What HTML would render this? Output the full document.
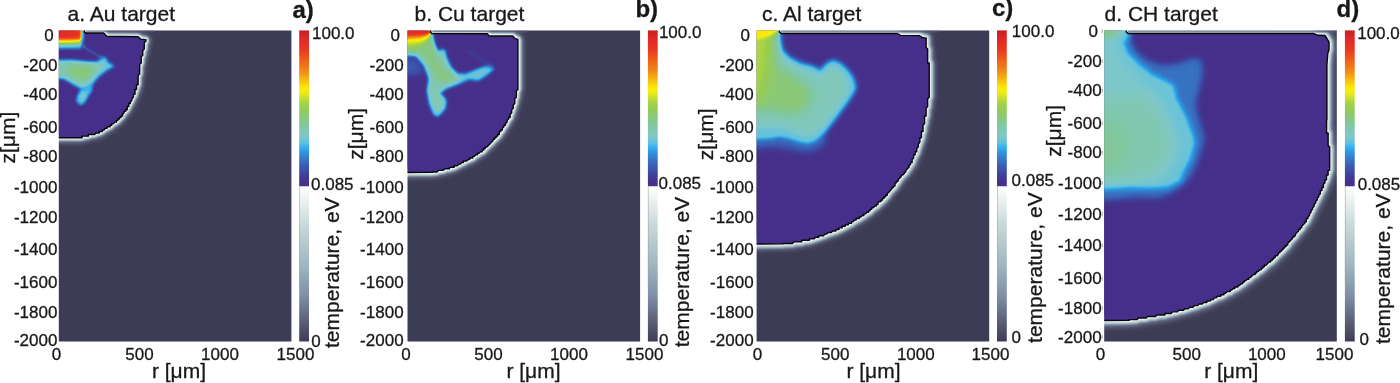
<!DOCTYPE html>
<html><head><meta charset="utf-8"><title>Temperature maps</title>
<style>html,body{margin:0;padding:0;background:#fff}body{width:1400px;height:383px;overflow:hidden}svg{display:block}text{font-family:"Liberation Sans",sans-serif;fill:#181818;stroke:#181818;stroke-width:0.3px;stroke-linejoin:round}</style></head><body>
<svg width="1400" height="383" viewBox="0 0 1400 383">
<defs><linearGradient id="topfade" x1="0" y1="0" x2="0" y2="1"><stop offset="0" stop-color="#4a4c68" stop-opacity="0.9"/><stop offset="0.45" stop-color="#5a5f7c" stop-opacity="0.55"/><stop offset="1" stop-color="#6a7090" stop-opacity="0"/></linearGradient>
<filter id="cm0" filterUnits="userSpaceOnUse" x="-1.2" y="-29.6" width="352.6" height="431.1" color-interpolation-filters="sRGB"><feColorMatrix type="matrix" values="1 0 0 0 0  1 0 0 0 0  1 0 0 0 0  0 0 0 0 1"/><feComponentTransfer><feFuncR type="table" tableValues="0.2745 0.2745 0.2739 0.2683 0.2627 0.2571 0.2514 0.2474 0.2436 0.2398 0.2359 0.2329 0.2300 0.2271 0.2242 0.2213 0.2168 0.2100 0.2033 0.1966 0.1898 0.1882 0.1882 0.1882 0.2059 0.2767 0.3475 0.3946 0.4253 0.4560 0.4868 0.5020 0.5020 0.5020 0.5020 0.5020 0.5020 0.5076 0.5133 0.5190 0.5247 0.5304 0.5378 0.5471 0.5564 0.5658 0.5751 0.5844 0.5937 0.6144 0.6392 0.6639 0.6887 0.7356 0.7840 0.8323 0.8805 0.9262 0.9719 0.9982 0.9936 0.9891 0.9849 0.9809 0.9769 0.9729 0.9670 0.9610 0.9550 0.9490 0.9430 0.9412 0.9412 0.9412 0.9412 0.9412 0.9412 0.9409 0.9361 0.9312 0.9264 0.9215 0.9167 0.9118 0.9070 0.9022 0.8974 0.8926 0.8878 0.8830 0.8778 0.8591 0.8404 0.8217 0.8030 0.7843"/><feFuncG type="table" tableValues="0.1882 0.1882 0.1894 0.2006 0.2119 0.2231 0.2344 0.2530 0.2722 0.2914 0.3106 0.3331 0.3563 0.3794 0.4026 0.4258 0.4505 0.4775 0.5045 0.5314 0.5584 0.5920 0.6277 0.6634 0.6961 0.7197 0.7433 0.7575 0.7652 0.7728 0.7805 0.7843 0.7843 0.7843 0.7843 0.7843 0.7843 0.7843 0.7843 0.7843 0.7843 0.7843 0.7854 0.7878 0.7901 0.7924 0.7947 0.7971 0.7994 0.8092 0.8215 0.8339 0.8463 0.8622 0.8783 0.8944 0.9103 0.9221 0.9339 0.9318 0.9073 0.8828 0.8454 0.8051 0.7649 0.7246 0.6882 0.6522 0.6162 0.5802 0.5441 0.5168 0.4932 0.4696 0.4461 0.4225 0.3989 0.3753 0.3510 0.3267 0.3024 0.2781 0.2538 0.2296 0.2140 0.2044 0.1948 0.1852 0.1757 0.1661 0.1566 0.1504 0.1442 0.1380 0.1317 0.1255"/><feFuncB type="table" tableValues="0.5412 0.5412 0.5425 0.5556 0.5688 0.5819 0.5950 0.6102 0.6256 0.6409 0.6563 0.6733 0.6907 0.7081 0.7255 0.7429 0.7614 0.7817 0.8019 0.8221 0.8423 0.8675 0.8943 0.9211 0.9353 0.9117 0.8881 0.8648 0.8418 0.8188 0.7957 0.7728 0.7500 0.7273 0.7045 0.6817 0.6589 0.6305 0.6020 0.5736 0.5451 0.5166 0.4884 0.4605 0.4326 0.4047 0.3768 0.3489 0.3210 0.3015 0.2850 0.2685 0.2520 0.2207 0.1885 0.1563 0.1234 0.0762 0.0290 0.0094 0.0339 0.0583 0.0627 0.0627 0.0627 0.0627 0.0683 0.0743 0.0803 0.0863 0.0923 0.0941 0.0941 0.0941 0.0941 0.0941 0.0941 0.0944 0.0992 0.1041 0.1089 0.1138 0.1186 0.1235 0.1283 0.1331 0.1379 0.1427 0.1475 0.1522 0.1566 0.1504 0.1442 0.1380 0.1317 0.1255"/></feComponentTransfer></filter>
<filter id="halo0" filterUnits="userSpaceOnUse" x="28.8" y="0.4" width="292.6" height="371.1" color-interpolation-filters="sRGB"><feGaussianBlur stdDeviation="1.2"/></filter>
<filter id="halow0" filterUnits="userSpaceOnUse" x="28.8" y="0.4" width="292.6" height="371.1" color-interpolation-filters="sRGB"><feGaussianBlur stdDeviation="2.4"/></filter>
<filter id="low0" filterUnits="userSpaceOnUse" x="28.8" y="0.4" width="292.6" height="371.1" color-interpolation-filters="sRGB"><feColorMatrix type="matrix" values="1 0 0 0 0  1 0 0 0 0  1 0 0 0 0  0 0 0 0 1"/><feComponentTransfer><feFuncR type="table" tableValues="0.2392 0.2696 0.2999 0.3303 0.3578 0.3850 0.4122 0.4394 0.4666 0.4938 0.5161 0.5364 0.5566 0.5769 0.5971 0.6173 0.6376 0.6578 0.6781 0.6983 0.7185 0.7388 0.7590 0.7793 0.8052 0.8330 0.8608 0.8887 0.9165 0.9443 0.9722 1.0000"/><feFuncG type="table" tableValues="0.2353 0.2682 0.3011 0.3340 0.3703 0.4070 0.4436 0.4803 0.5170 0.5537 0.5824 0.6077 0.6330 0.6583 0.6836 0.7089 0.7297 0.7459 0.7620 0.7782 0.7944 0.8106 0.8268 0.8430 0.8619 0.8816 0.9013 0.9211 0.9408 0.9605 0.9803 1.0000"/><feFuncB type="table" tableValues="0.3373 0.3689 0.4005 0.4321 0.4677 0.5038 0.5398 0.5759 0.6120 0.6480 0.6694 0.6846 0.6998 0.7150 0.7302 0.7454 0.7590 0.7712 0.7833 0.7954 0.8076 0.8197 0.8319 0.8440 0.8619 0.8816 0.9013 0.9211 0.9408 0.9605 0.9803 1.0000"/></feComponentTransfer></filter>
<filter id="b0_0" filterUnits="userSpaceOnUse" x="-1.2" y="-29.6" width="352.6" height="431.1" color-interpolation-filters="sRGB"><feGaussianBlur stdDeviation="2.5 2.5"/></filter>
<filter id="b0_1" filterUnits="userSpaceOnUse" x="-1.2" y="-29.6" width="352.6" height="431.1" color-interpolation-filters="sRGB"><feGaussianBlur stdDeviation="1.5 1.5"/></filter>
<filter id="b0_2" filterUnits="userSpaceOnUse" x="-1.2" y="-29.6" width="352.6" height="431.1" color-interpolation-filters="sRGB"><feGaussianBlur stdDeviation="1.8 1.8"/></filter>
<filter id="b0_3" filterUnits="userSpaceOnUse" x="-1.2" y="-29.6" width="352.6" height="431.1" color-interpolation-filters="sRGB"><feGaussianBlur stdDeviation="1.2 1.2"/></filter>
<filter id="b0_4" filterUnits="userSpaceOnUse" x="-1.2" y="-29.6" width="352.6" height="431.1" color-interpolation-filters="sRGB"><feGaussianBlur stdDeviation="2.2 2.2"/></filter>
<filter id="b0_5" filterUnits="userSpaceOnUse" x="-1.2" y="-29.6" width="352.6" height="431.1" color-interpolation-filters="sRGB"><feGaussianBlur stdDeviation="3 3"/></filter>
<filter id="b0_6" filterUnits="userSpaceOnUse" x="-1.2" y="-29.6" width="352.6" height="431.1" color-interpolation-filters="sRGB"><feGaussianBlur stdDeviation="1.5 1.5"/></filter>
<filter id="cm1" filterUnits="userSpaceOnUse" x="347.5" y="-29.6" width="352.6" height="431.1" color-interpolation-filters="sRGB"><feColorMatrix type="matrix" values="1 0 0 0 0  1 0 0 0 0  1 0 0 0 0  0 0 0 0 1"/><feComponentTransfer><feFuncR type="table" tableValues="0.2745 0.2745 0.2739 0.2683 0.2627 0.2571 0.2514 0.2474 0.2436 0.2398 0.2359 0.2329 0.2300 0.2271 0.2242 0.2213 0.2168 0.2100 0.2033 0.1966 0.1898 0.1882 0.1882 0.1882 0.2059 0.2767 0.3475 0.3946 0.4253 0.4560 0.4868 0.5020 0.5020 0.5020 0.5020 0.5020 0.5020 0.5076 0.5133 0.5190 0.5247 0.5304 0.5378 0.5471 0.5564 0.5658 0.5751 0.5844 0.5937 0.6144 0.6392 0.6639 0.6887 0.7356 0.7840 0.8323 0.8805 0.9262 0.9719 0.9982 0.9936 0.9891 0.9849 0.9809 0.9769 0.9729 0.9670 0.9610 0.9550 0.9490 0.9430 0.9412 0.9412 0.9412 0.9412 0.9412 0.9412 0.9409 0.9361 0.9312 0.9264 0.9215 0.9167 0.9118 0.9070 0.9022 0.8974 0.8926 0.8878 0.8830 0.8778 0.8591 0.8404 0.8217 0.8030 0.7843"/><feFuncG type="table" tableValues="0.1882 0.1882 0.1894 0.2006 0.2119 0.2231 0.2344 0.2530 0.2722 0.2914 0.3106 0.3331 0.3563 0.3794 0.4026 0.4258 0.4505 0.4775 0.5045 0.5314 0.5584 0.5920 0.6277 0.6634 0.6961 0.7197 0.7433 0.7575 0.7652 0.7728 0.7805 0.7843 0.7843 0.7843 0.7843 0.7843 0.7843 0.7843 0.7843 0.7843 0.7843 0.7843 0.7854 0.7878 0.7901 0.7924 0.7947 0.7971 0.7994 0.8092 0.8215 0.8339 0.8463 0.8622 0.8783 0.8944 0.9103 0.9221 0.9339 0.9318 0.9073 0.8828 0.8454 0.8051 0.7649 0.7246 0.6882 0.6522 0.6162 0.5802 0.5441 0.5168 0.4932 0.4696 0.4461 0.4225 0.3989 0.3753 0.3510 0.3267 0.3024 0.2781 0.2538 0.2296 0.2140 0.2044 0.1948 0.1852 0.1757 0.1661 0.1566 0.1504 0.1442 0.1380 0.1317 0.1255"/><feFuncB type="table" tableValues="0.5412 0.5412 0.5425 0.5556 0.5688 0.5819 0.5950 0.6102 0.6256 0.6409 0.6563 0.6733 0.6907 0.7081 0.7255 0.7429 0.7614 0.7817 0.8019 0.8221 0.8423 0.8675 0.8943 0.9211 0.9353 0.9117 0.8881 0.8648 0.8418 0.8188 0.7957 0.7728 0.7500 0.7273 0.7045 0.6817 0.6589 0.6305 0.6020 0.5736 0.5451 0.5166 0.4884 0.4605 0.4326 0.4047 0.3768 0.3489 0.3210 0.3015 0.2850 0.2685 0.2520 0.2207 0.1885 0.1563 0.1234 0.0762 0.0290 0.0094 0.0339 0.0583 0.0627 0.0627 0.0627 0.0627 0.0683 0.0743 0.0803 0.0863 0.0923 0.0941 0.0941 0.0941 0.0941 0.0941 0.0941 0.0944 0.0992 0.1041 0.1089 0.1138 0.1186 0.1235 0.1283 0.1331 0.1379 0.1427 0.1475 0.1522 0.1566 0.1504 0.1442 0.1380 0.1317 0.1255"/></feComponentTransfer></filter>
<filter id="halo1" filterUnits="userSpaceOnUse" x="377.5" y="0.4" width="292.6" height="371.1" color-interpolation-filters="sRGB"><feGaussianBlur stdDeviation="1.3"/></filter>
<filter id="halow1" filterUnits="userSpaceOnUse" x="377.5" y="0.4" width="292.6" height="371.1" color-interpolation-filters="sRGB"><feGaussianBlur stdDeviation="2.6"/></filter>
<filter id="low1" filterUnits="userSpaceOnUse" x="377.5" y="0.4" width="292.6" height="371.1" color-interpolation-filters="sRGB"><feColorMatrix type="matrix" values="1 0 0 0 0  1 0 0 0 0  1 0 0 0 0  0 0 0 0 1"/><feComponentTransfer><feFuncR type="table" tableValues="0.2392 0.2696 0.2999 0.3303 0.3578 0.3850 0.4122 0.4394 0.4666 0.4938 0.5161 0.5364 0.5566 0.5769 0.5971 0.6173 0.6376 0.6578 0.6781 0.6983 0.7185 0.7388 0.7590 0.7793 0.8052 0.8330 0.8608 0.8887 0.9165 0.9443 0.9722 1.0000"/><feFuncG type="table" tableValues="0.2353 0.2682 0.3011 0.3340 0.3703 0.4070 0.4436 0.4803 0.5170 0.5537 0.5824 0.6077 0.6330 0.6583 0.6836 0.7089 0.7297 0.7459 0.7620 0.7782 0.7944 0.8106 0.8268 0.8430 0.8619 0.8816 0.9013 0.9211 0.9408 0.9605 0.9803 1.0000"/><feFuncB type="table" tableValues="0.3373 0.3689 0.4005 0.4321 0.4677 0.5038 0.5398 0.5759 0.6120 0.6480 0.6694 0.6846 0.6998 0.7150 0.7302 0.7454 0.7590 0.7712 0.7833 0.7954 0.8076 0.8197 0.8319 0.8440 0.8619 0.8816 0.9013 0.9211 0.9408 0.9605 0.9803 1.0000"/></feComponentTransfer></filter>
<filter id="b1_0" filterUnits="userSpaceOnUse" x="347.5" y="-29.6" width="352.6" height="431.1" color-interpolation-filters="sRGB"><feGaussianBlur stdDeviation="3.5 3.5"/></filter>
<filter id="b1_1" filterUnits="userSpaceOnUse" x="347.5" y="-29.6" width="352.6" height="431.1" color-interpolation-filters="sRGB"><feGaussianBlur stdDeviation="3 3"/></filter>
<filter id="b1_2" filterUnits="userSpaceOnUse" x="347.5" y="-29.6" width="352.6" height="431.1" color-interpolation-filters="sRGB"><feGaussianBlur stdDeviation="1.8 1.8"/></filter>
<filter id="b1_3" filterUnits="userSpaceOnUse" x="347.5" y="-29.6" width="352.6" height="431.1" color-interpolation-filters="sRGB"><feGaussianBlur stdDeviation="2 2"/></filter>
<filter id="b1_4" filterUnits="userSpaceOnUse" x="347.5" y="-29.6" width="352.6" height="431.1" color-interpolation-filters="sRGB"><feGaussianBlur stdDeviation="2.2 2.2"/></filter>
<filter id="b1_5" filterUnits="userSpaceOnUse" x="347.5" y="-29.6" width="352.6" height="431.1" color-interpolation-filters="sRGB"><feGaussianBlur stdDeviation="2.5 2.5"/></filter>
<filter id="cm2" filterUnits="userSpaceOnUse" x="696.6" y="-29.6" width="352.6" height="431.1" color-interpolation-filters="sRGB"><feColorMatrix type="matrix" values="1 0 0 0 0  1 0 0 0 0  1 0 0 0 0  0 0 0 0 1"/><feComponentTransfer><feFuncR type="table" tableValues="0.2745 0.2745 0.2739 0.2683 0.2627 0.2571 0.2514 0.2474 0.2436 0.2398 0.2359 0.2329 0.2300 0.2271 0.2242 0.2213 0.2168 0.2100 0.2033 0.1966 0.1898 0.1882 0.1882 0.1882 0.2059 0.2767 0.3475 0.3946 0.4253 0.4560 0.4868 0.5020 0.5020 0.5020 0.5020 0.5020 0.5020 0.5076 0.5133 0.5190 0.5247 0.5304 0.5378 0.5471 0.5564 0.5658 0.5751 0.5844 0.5937 0.6144 0.6392 0.6639 0.6887 0.7356 0.7840 0.8323 0.8805 0.9262 0.9719 0.9982 0.9936 0.9891 0.9849 0.9809 0.9769 0.9729 0.9670 0.9610 0.9550 0.9490 0.9430 0.9412 0.9412 0.9412 0.9412 0.9412 0.9412 0.9409 0.9361 0.9312 0.9264 0.9215 0.9167 0.9118 0.9070 0.9022 0.8974 0.8926 0.8878 0.8830 0.8778 0.8591 0.8404 0.8217 0.8030 0.7843"/><feFuncG type="table" tableValues="0.1882 0.1882 0.1894 0.2006 0.2119 0.2231 0.2344 0.2530 0.2722 0.2914 0.3106 0.3331 0.3563 0.3794 0.4026 0.4258 0.4505 0.4775 0.5045 0.5314 0.5584 0.5920 0.6277 0.6634 0.6961 0.7197 0.7433 0.7575 0.7652 0.7728 0.7805 0.7843 0.7843 0.7843 0.7843 0.7843 0.7843 0.7843 0.7843 0.7843 0.7843 0.7843 0.7854 0.7878 0.7901 0.7924 0.7947 0.7971 0.7994 0.8092 0.8215 0.8339 0.8463 0.8622 0.8783 0.8944 0.9103 0.9221 0.9339 0.9318 0.9073 0.8828 0.8454 0.8051 0.7649 0.7246 0.6882 0.6522 0.6162 0.5802 0.5441 0.5168 0.4932 0.4696 0.4461 0.4225 0.3989 0.3753 0.3510 0.3267 0.3024 0.2781 0.2538 0.2296 0.2140 0.2044 0.1948 0.1852 0.1757 0.1661 0.1566 0.1504 0.1442 0.1380 0.1317 0.1255"/><feFuncB type="table" tableValues="0.5412 0.5412 0.5425 0.5556 0.5688 0.5819 0.5950 0.6102 0.6256 0.6409 0.6563 0.6733 0.6907 0.7081 0.7255 0.7429 0.7614 0.7817 0.8019 0.8221 0.8423 0.8675 0.8943 0.9211 0.9353 0.9117 0.8881 0.8648 0.8418 0.8188 0.7957 0.7728 0.7500 0.7273 0.7045 0.6817 0.6589 0.6305 0.6020 0.5736 0.5451 0.5166 0.4884 0.4605 0.4326 0.4047 0.3768 0.3489 0.3210 0.3015 0.2850 0.2685 0.2520 0.2207 0.1885 0.1563 0.1234 0.0762 0.0290 0.0094 0.0339 0.0583 0.0627 0.0627 0.0627 0.0627 0.0683 0.0743 0.0803 0.0863 0.0923 0.0941 0.0941 0.0941 0.0941 0.0941 0.0941 0.0944 0.0992 0.1041 0.1089 0.1138 0.1186 0.1235 0.1283 0.1331 0.1379 0.1427 0.1475 0.1522 0.1566 0.1504 0.1442 0.1380 0.1317 0.1255"/></feComponentTransfer></filter>
<filter id="halo2" filterUnits="userSpaceOnUse" x="726.6" y="0.4" width="292.6" height="371.1" color-interpolation-filters="sRGB"><feGaussianBlur stdDeviation="1.4"/></filter>
<filter id="halow2" filterUnits="userSpaceOnUse" x="726.6" y="0.4" width="292.6" height="371.1" color-interpolation-filters="sRGB"><feGaussianBlur stdDeviation="2.8"/></filter>
<filter id="low2" filterUnits="userSpaceOnUse" x="726.6" y="0.4" width="292.6" height="371.1" color-interpolation-filters="sRGB"><feColorMatrix type="matrix" values="1 0 0 0 0  1 0 0 0 0  1 0 0 0 0  0 0 0 0 1"/><feComponentTransfer><feFuncR type="table" tableValues="0.2392 0.2696 0.2999 0.3303 0.3578 0.3850 0.4122 0.4394 0.4666 0.4938 0.5161 0.5364 0.5566 0.5769 0.5971 0.6173 0.6376 0.6578 0.6781 0.6983 0.7185 0.7388 0.7590 0.7793 0.8052 0.8330 0.8608 0.8887 0.9165 0.9443 0.9722 1.0000"/><feFuncG type="table" tableValues="0.2353 0.2682 0.3011 0.3340 0.3703 0.4070 0.4436 0.4803 0.5170 0.5537 0.5824 0.6077 0.6330 0.6583 0.6836 0.7089 0.7297 0.7459 0.7620 0.7782 0.7944 0.8106 0.8268 0.8430 0.8619 0.8816 0.9013 0.9211 0.9408 0.9605 0.9803 1.0000"/><feFuncB type="table" tableValues="0.3373 0.3689 0.4005 0.4321 0.4677 0.5038 0.5398 0.5759 0.6120 0.6480 0.6694 0.6846 0.6998 0.7150 0.7302 0.7454 0.7590 0.7712 0.7833 0.7954 0.8076 0.8197 0.8319 0.8440 0.8619 0.8816 0.9013 0.9211 0.9408 0.9605 0.9803 1.0000"/></feComponentTransfer></filter>
<filter id="b2_0" filterUnits="userSpaceOnUse" x="696.6" y="-29.6" width="352.6" height="431.1" color-interpolation-filters="sRGB"><feGaussianBlur stdDeviation="5 5"/></filter>
<filter id="b2_1" filterUnits="userSpaceOnUse" x="696.6" y="-29.6" width="352.6" height="431.1" color-interpolation-filters="sRGB"><feGaussianBlur stdDeviation="4 4"/></filter>
<filter id="b2_2" filterUnits="userSpaceOnUse" x="696.6" y="-29.6" width="352.6" height="431.1" color-interpolation-filters="sRGB"><feGaussianBlur stdDeviation="2.6 2.6"/></filter>
<filter id="b2_3" filterUnits="userSpaceOnUse" x="696.6" y="-29.6" width="352.6" height="431.1" color-interpolation-filters="sRGB"><feGaussianBlur stdDeviation="1.8 1.8"/></filter>
<filter id="b2_4" filterUnits="userSpaceOnUse" x="696.6" y="-29.6" width="352.6" height="431.1" color-interpolation-filters="sRGB"><feGaussianBlur stdDeviation="3 3"/></filter>
<filter id="b2_5" filterUnits="userSpaceOnUse" x="696.6" y="-29.6" width="352.6" height="431.1" color-interpolation-filters="sRGB"><feGaussianBlur stdDeviation="6 6"/></filter>
<filter id="b2_6" filterUnits="userSpaceOnUse" x="696.6" y="-29.6" width="352.6" height="431.1" color-interpolation-filters="sRGB"><feGaussianBlur stdDeviation="7 7"/></filter>
<filter id="b2_7" filterUnits="userSpaceOnUse" x="696.6" y="-29.6" width="352.6" height="431.1" color-interpolation-filters="sRGB"><feGaussianBlur stdDeviation="2.2 2.2"/></filter>
<filter id="cm3" filterUnits="userSpaceOnUse" x="1044.2" y="-29.6" width="352.6" height="431.1" color-interpolation-filters="sRGB"><feColorMatrix type="matrix" values="1 0 0 0 0  1 0 0 0 0  1 0 0 0 0  0 0 0 0 1"/><feComponentTransfer><feFuncR type="table" tableValues="0.2745 0.2745 0.2739 0.2683 0.2627 0.2571 0.2514 0.2474 0.2436 0.2398 0.2359 0.2329 0.2300 0.2271 0.2242 0.2213 0.2168 0.2100 0.2033 0.1966 0.1898 0.1882 0.1882 0.1882 0.2059 0.2767 0.3475 0.3946 0.4253 0.4560 0.4868 0.5020 0.5020 0.5020 0.5020 0.5020 0.5020 0.5076 0.5133 0.5190 0.5247 0.5304 0.5378 0.5471 0.5564 0.5658 0.5751 0.5844 0.5937 0.6144 0.6392 0.6639 0.6887 0.7356 0.7840 0.8323 0.8805 0.9262 0.9719 0.9982 0.9936 0.9891 0.9849 0.9809 0.9769 0.9729 0.9670 0.9610 0.9550 0.9490 0.9430 0.9412 0.9412 0.9412 0.9412 0.9412 0.9412 0.9409 0.9361 0.9312 0.9264 0.9215 0.9167 0.9118 0.9070 0.9022 0.8974 0.8926 0.8878 0.8830 0.8778 0.8591 0.8404 0.8217 0.8030 0.7843"/><feFuncG type="table" tableValues="0.1882 0.1882 0.1894 0.2006 0.2119 0.2231 0.2344 0.2530 0.2722 0.2914 0.3106 0.3331 0.3563 0.3794 0.4026 0.4258 0.4505 0.4775 0.5045 0.5314 0.5584 0.5920 0.6277 0.6634 0.6961 0.7197 0.7433 0.7575 0.7652 0.7728 0.7805 0.7843 0.7843 0.7843 0.7843 0.7843 0.7843 0.7843 0.7843 0.7843 0.7843 0.7843 0.7854 0.7878 0.7901 0.7924 0.7947 0.7971 0.7994 0.8092 0.8215 0.8339 0.8463 0.8622 0.8783 0.8944 0.9103 0.9221 0.9339 0.9318 0.9073 0.8828 0.8454 0.8051 0.7649 0.7246 0.6882 0.6522 0.6162 0.5802 0.5441 0.5168 0.4932 0.4696 0.4461 0.4225 0.3989 0.3753 0.3510 0.3267 0.3024 0.2781 0.2538 0.2296 0.2140 0.2044 0.1948 0.1852 0.1757 0.1661 0.1566 0.1504 0.1442 0.1380 0.1317 0.1255"/><feFuncB type="table" tableValues="0.5412 0.5412 0.5425 0.5556 0.5688 0.5819 0.5950 0.6102 0.6256 0.6409 0.6563 0.6733 0.6907 0.7081 0.7255 0.7429 0.7614 0.7817 0.8019 0.8221 0.8423 0.8675 0.8943 0.9211 0.9353 0.9117 0.8881 0.8648 0.8418 0.8188 0.7957 0.7728 0.7500 0.7273 0.7045 0.6817 0.6589 0.6305 0.6020 0.5736 0.5451 0.5166 0.4884 0.4605 0.4326 0.4047 0.3768 0.3489 0.3210 0.3015 0.2850 0.2685 0.2520 0.2207 0.1885 0.1563 0.1234 0.0762 0.0290 0.0094 0.0339 0.0583 0.0627 0.0627 0.0627 0.0627 0.0683 0.0743 0.0803 0.0863 0.0923 0.0941 0.0941 0.0941 0.0941 0.0941 0.0941 0.0944 0.0992 0.1041 0.1089 0.1138 0.1186 0.1235 0.1283 0.1331 0.1379 0.1427 0.1475 0.1522 0.1566 0.1504 0.1442 0.1380 0.1317 0.1255"/></feComponentTransfer></filter>
<filter id="halo3" filterUnits="userSpaceOnUse" x="1074.2" y="0.4" width="292.6" height="371.1" color-interpolation-filters="sRGB"><feGaussianBlur stdDeviation="1.5"/></filter>
<filter id="halow3" filterUnits="userSpaceOnUse" x="1074.2" y="0.4" width="292.6" height="371.1" color-interpolation-filters="sRGB"><feGaussianBlur stdDeviation="3.0"/></filter>
<filter id="low3" filterUnits="userSpaceOnUse" x="1074.2" y="0.4" width="292.6" height="371.1" color-interpolation-filters="sRGB"><feColorMatrix type="matrix" values="1 0 0 0 0  1 0 0 0 0  1 0 0 0 0  0 0 0 0 1"/><feComponentTransfer><feFuncR type="table" tableValues="0.2392 0.2696 0.2999 0.3303 0.3578 0.3850 0.4122 0.4394 0.4666 0.4938 0.5161 0.5364 0.5566 0.5769 0.5971 0.6173 0.6376 0.6578 0.6781 0.6983 0.7185 0.7388 0.7590 0.7793 0.8052 0.8330 0.8608 0.8887 0.9165 0.9443 0.9722 1.0000"/><feFuncG type="table" tableValues="0.2353 0.2682 0.3011 0.3340 0.3703 0.4070 0.4436 0.4803 0.5170 0.5537 0.5824 0.6077 0.6330 0.6583 0.6836 0.7089 0.7297 0.7459 0.7620 0.7782 0.7944 0.8106 0.8268 0.8430 0.8619 0.8816 0.9013 0.9211 0.9408 0.9605 0.9803 1.0000"/><feFuncB type="table" tableValues="0.3373 0.3689 0.4005 0.4321 0.4677 0.5038 0.5398 0.5759 0.6120 0.6480 0.6694 0.6846 0.6998 0.7150 0.7302 0.7454 0.7590 0.7712 0.7833 0.7954 0.8076 0.8197 0.8319 0.8440 0.8619 0.8816 0.9013 0.9211 0.9408 0.9605 0.9803 1.0000"/></feComponentTransfer></filter>
<filter id="b3_0" filterUnits="userSpaceOnUse" x="1044.2" y="-29.6" width="352.6" height="431.1" color-interpolation-filters="sRGB"><feGaussianBlur stdDeviation="5 5"/></filter>
<filter id="b3_1" filterUnits="userSpaceOnUse" x="1044.2" y="-29.6" width="352.6" height="431.1" color-interpolation-filters="sRGB"><feGaussianBlur stdDeviation="3 3"/></filter>
<filter id="b3_2" filterUnits="userSpaceOnUse" x="1044.2" y="-29.6" width="352.6" height="431.1" color-interpolation-filters="sRGB"><feGaussianBlur stdDeviation="2 2"/></filter>
<filter id="b3_3" filterUnits="userSpaceOnUse" x="1044.2" y="-29.6" width="352.6" height="431.1" color-interpolation-filters="sRGB"><feGaussianBlur stdDeviation="1.5 1.5"/></filter>
<filter id="b3_4" filterUnits="userSpaceOnUse" x="1044.2" y="-29.6" width="352.6" height="431.1" color-interpolation-filters="sRGB"><feGaussianBlur stdDeviation="4 4"/></filter>
<filter id="b3_5" filterUnits="userSpaceOnUse" x="1044.2" y="-29.6" width="352.6" height="431.1" color-interpolation-filters="sRGB"><feGaussianBlur stdDeviation="8 8"/></filter>
<filter id="b3_6" filterUnits="userSpaceOnUse" x="1044.2" y="-29.6" width="352.6" height="431.1" color-interpolation-filters="sRGB"><feGaussianBlur stdDeviation="9 9"/></filter>
<filter id="b3_7" filterUnits="userSpaceOnUse" x="1044.2" y="-29.6" width="352.6" height="431.1" color-interpolation-filters="sRGB"><feGaussianBlur stdDeviation="3 3"/></filter></defs>
<rect width="1400" height="383" fill="#fff"/>
<!-- panel 0 -->
<clipPath id="clip0"><rect x="58.80" y="30.40" width="232.60" height="311.10"/></clipPath>
<clipPath id="reg0"><path d="M84.50 29.00 L84.50 32.20 L86.00 33.00 L103.60 33.00 L106.70 36.30 L138.00 36.80 L141.00 39.20 L145.60 39.60 L145.88 39.73 L145.88 41.28 L144.32 42.84 L144.32 44.39 L144.32 45.95 L144.32 47.50 L144.32 49.06 L142.77 50.61 L142.77 52.17 L142.77 53.72 L142.77 55.28 L141.21 56.83 L141.21 58.39 L141.21 59.94 L141.21 61.50 L141.21 63.05 L139.66 64.61 L139.66 66.16 L139.66 67.72 L139.66 69.28 L139.66 70.83 L139.66 72.38 L139.66 73.94 L138.10 75.50 L138.10 77.05 L138.10 78.60 L138.10 80.16 L138.10 81.72 L138.10 83.27 L138.10 84.82 L136.55 84.82 L136.55 86.38 L136.55 87.94 L136.55 89.49 L135.00 89.49 L135.00 91.04 L135.00 92.60 L135.00 94.16 L133.44 94.16 L133.44 95.71 L133.44 97.26 L131.88 98.82 L131.88 100.38 L130.33 101.93 L130.33 103.48 L128.77 103.48 L128.77 105.04 L128.77 106.59 L127.22 106.59 L127.22 108.15 L127.22 109.70 L125.66 109.70 L125.66 111.26 L124.11 111.26 L124.11 112.81 L122.55 114.37 L122.55 115.92 L121.00 115.92 L121.00 117.48 L119.44 117.48 L119.44 119.03 L117.89 119.03 L117.89 120.59 L116.33 120.59 L116.33 122.14 L114.78 122.14 L113.22 123.70 L111.67 123.70 L111.67 125.25 L110.11 125.25 L110.11 126.81 L108.56 126.81 L107.00 126.81 L107.00 128.36 L105.45 128.36 L103.89 129.92 L102.34 129.92 L102.34 131.47 L100.78 131.47 L99.23 131.47 L99.23 133.03 L97.67 133.03 L96.12 133.03 L94.56 134.59 L93.01 134.59 L91.45 134.59 L89.90 134.59 L88.34 134.59 L88.34 136.14 L86.79 136.14 L85.23 136.14 L83.68 136.14 L82.12 136.14 L82.12 137.69 L80.57 137.69 L80.10 137.60 L50.00 137.80 L18.80 137.80 L18.80 29.00 Z M18.80 20.40 h65.70 v20 h-65.70 Z"/></clipPath>
<g clip-path="url(#clip0)">
<g filter="url(#low0)"><rect x="28.80" y="0.40" width="292.60" height="371.10" fill="#000"/>
<path d="M84.50 29.00 L84.50 32.20 L86.00 33.00 L103.60 33.00 L106.70 36.30 L138.00 36.80 L141.00 39.20 L145.60 39.60 L145.88 39.73 L145.88 41.28 L144.32 42.84 L144.32 44.39 L144.32 45.95 L144.32 47.50 L144.32 49.06 L142.77 50.61 L142.77 52.17 L142.77 53.72 L142.77 55.28 L141.21 56.83 L141.21 58.39 L141.21 59.94 L141.21 61.50 L141.21 63.05 L139.66 64.61 L139.66 66.16 L139.66 67.72 L139.66 69.28 L139.66 70.83 L139.66 72.38 L139.66 73.94 L138.10 75.50 L138.10 77.05 L138.10 78.60 L138.10 80.16 L138.10 81.72 L138.10 83.27 L138.10 84.82 L136.55 84.82 L136.55 86.38 L136.55 87.94 L136.55 89.49 L135.00 89.49 L135.00 91.04 L135.00 92.60 L135.00 94.16 L133.44 94.16 L133.44 95.71 L133.44 97.26 L131.88 98.82 L131.88 100.38 L130.33 101.93 L130.33 103.48 L128.77 103.48 L128.77 105.04 L128.77 106.59 L127.22 106.59 L127.22 108.15 L127.22 109.70 L125.66 109.70 L125.66 111.26 L124.11 111.26 L124.11 112.81 L122.55 114.37 L122.55 115.92 L121.00 115.92 L121.00 117.48 L119.44 117.48 L119.44 119.03 L117.89 119.03 L117.89 120.59 L116.33 120.59 L116.33 122.14 L114.78 122.14 L113.22 123.70 L111.67 123.70 L111.67 125.25 L110.11 125.25 L110.11 126.81 L108.56 126.81 L107.00 126.81 L107.00 128.36 L105.45 128.36 L103.89 129.92 L102.34 129.92 L102.34 131.47 L100.78 131.47 L99.23 131.47 L99.23 133.03 L97.67 133.03 L96.12 133.03 L94.56 134.59 L93.01 134.59 L91.45 134.59 L89.90 134.59 L88.34 134.59 L88.34 136.14 L86.79 136.14 L85.23 136.14 L83.68 136.14 L82.12 136.14 L82.12 137.69 L80.57 137.69 L80.10 137.60 L50.00 137.80" fill="none" stroke="#fff" stroke-opacity="0.34" stroke-width="8.25" stroke-linejoin="round" filter="url(#halow0)"/>
<path d="M84.50 29.00 L84.50 32.20 L86.00 33.00 L103.60 33.00 L106.70 36.30 L138.00 36.80 L141.00 39.20 L145.60 39.60 L145.88 39.73 L145.88 41.28 L144.32 42.84 L144.32 44.39 L144.32 45.95 L144.32 47.50 L144.32 49.06 L142.77 50.61 L142.77 52.17 L142.77 53.72 L142.77 55.28 L141.21 56.83 L141.21 58.39 L141.21 59.94 L141.21 61.50 L141.21 63.05 L139.66 64.61 L139.66 66.16 L139.66 67.72 L139.66 69.28 L139.66 70.83 L139.66 72.38 L139.66 73.94 L138.10 75.50 L138.10 77.05 L138.10 78.60 L138.10 80.16 L138.10 81.72 L138.10 83.27 L138.10 84.82 L136.55 84.82 L136.55 86.38 L136.55 87.94 L136.55 89.49 L135.00 89.49 L135.00 91.04 L135.00 92.60 L135.00 94.16 L133.44 94.16 L133.44 95.71 L133.44 97.26 L131.88 98.82 L131.88 100.38 L130.33 101.93 L130.33 103.48 L128.77 103.48 L128.77 105.04 L128.77 106.59 L127.22 106.59 L127.22 108.15 L127.22 109.70 L125.66 109.70 L125.66 111.26 L124.11 111.26 L124.11 112.81 L122.55 114.37 L122.55 115.92 L121.00 115.92 L121.00 117.48 L119.44 117.48 L119.44 119.03 L117.89 119.03 L117.89 120.59 L116.33 120.59 L116.33 122.14 L114.78 122.14 L113.22 123.70 L111.67 123.70 L111.67 125.25 L110.11 125.25 L110.11 126.81 L108.56 126.81 L107.00 126.81 L107.00 128.36 L105.45 128.36 L103.89 129.92 L102.34 129.92 L102.34 131.47 L100.78 131.47 L99.23 131.47 L99.23 133.03 L97.67 133.03 L96.12 133.03 L94.56 134.59 L93.01 134.59 L91.45 134.59 L89.90 134.59 L88.34 134.59 L88.34 136.14 L86.79 136.14 L85.23 136.14 L83.68 136.14 L82.12 136.14 L82.12 137.69 L80.57 137.69 L80.10 137.60 L50.00 137.80" fill="none" stroke="#fff" stroke-width="4.675" stroke-linejoin="round" filter="url(#halo0)"/></g>
<rect x="86.00" y="30.40" width="68.60" height="2.40" fill="url(#topfade)"/>
<g clip-path="url(#reg0)"><g filter="url(#cm0)">
<rect x="-1.20" y="-29.60" width="352.60" height="431.10" fill="#000"/>
<g filter="url(#b0_0)">
<path d="M40.00 60.50 L70.70 59.80 L86.30 61.40 L97.30 61.80 L102.00 56.80 L106.00 57.40 L108.30 62.60 L114.80 66.00 L106.70 70.50 L98.90 76.70 L93.00 84.00 L88.00 88.00 L81.00 89.00 L73.80 85.00 L64.40 79.00 L40.00 77.00 Z" fill="rgb(26,26,26)" stroke="rgb(26,26,26)" stroke-width="3" stroke-linejoin="round"/>
</g>
<g filter="url(#b0_1)">
<path d="M40.00 60.50 L70.70 59.80 L86.30 61.40 L97.30 61.80 L102.00 56.80 L106.00 57.40 L108.30 62.60 L114.80 66.00 L106.70 70.50 L98.90 76.70 L93.00 84.00 L88.00 88.00 L81.00 89.00 L73.80 85.00 L64.40 79.00 L40.00 77.00 Z" fill="rgb(76,76,76)"/>
</g>
<g filter="url(#b0_2)">
<path d="M92.60 83.00 L92.60 91.30 L88.70 96.80 L84.80 103.80 L80.00 106.20 L75.40 100.70 L77.00 94.40 L80.90 88.00 Z" fill="rgb(66,66,66)"/>
</g>
<g filter="url(#b0_3)">
<path d="M83.5 46 C86 50 94 52 102 58" fill="none" stroke="rgb(38,38,38)" stroke-width="2.4" stroke-linecap="round"/>
</g>
<g filter="url(#b0_4)">
<path d="M40.00 63.50 L72.00 62.50 L97.00 64.50 L104.00 65.50 L96.00 72.00 L89.00 81.00 L84.00 86.00 L74.00 81.00 L62.00 76.00 L40.00 74.00 Z" fill="rgb(94,94,94)"/>
</g>
<g filter="url(#b0_5)">
<path d="M68.00 66.00 L84.00 66.00 L95.00 68.00 L90.00 75.00 L84.00 80.00 L76.00 78.00 L70.00 73.00 Z" fill="rgb(115,115,115)"/>
</g>
<g filter="url(#b0_6)">
<path d="M82.00 92.00 L87.00 92.00 L85.00 99.00 L81.00 102.00 L79.00 98.00 Z" fill="rgb(79,79,79)"/>
</g>
<linearGradient id="hsav" gradientUnits="userSpaceOnUse" x1="0" y1="30.40" x2="0" y2="52.00"><stop offset="0.0000" stop-color="#fff" stop-opacity="0.950"/><stop offset="0.2593" stop-color="#fff" stop-opacity="0.930"/><stop offset="0.3519" stop-color="#fff" stop-opacity="0.880"/><stop offset="0.4213" stop-color="#fff" stop-opacity="0.760"/><stop offset="0.4907" stop-color="#fff" stop-opacity="0.640"/><stop offset="0.5602" stop-color="#fff" stop-opacity="0.570"/><stop offset="0.6296" stop-color="#fff" stop-opacity="0.450"/><stop offset="0.7222" stop-color="#fff" stop-opacity="0.310"/><stop offset="0.7917" stop-color="#fff" stop-opacity="0.250"/><stop offset="0.8611" stop-color="#fff" stop-opacity="0.150"/><stop offset="0.9306" stop-color="#fff" stop-opacity="0.050"/><stop offset="1.0000" stop-color="#fff" stop-opacity="0.000"/></linearGradient><linearGradient id="hsah" gradientUnits="userSpaceOnUse" x1="30.00" y1="0" x2="90.00" y2="0"><stop offset="0.0000" stop-color="rgb(255,255,255)"/><stop offset="0.4833" stop-color="rgb(255,255,255)"/><stop offset="0.6333" stop-color="rgb(252,252,252)"/><stop offset="0.7000" stop-color="rgb(249,249,249)"/><stop offset="0.7500" stop-color="rgb(245,245,245)"/><stop offset="0.8000" stop-color="rgb(240,240,240)"/><stop offset="0.8333" stop-color="rgb(230,230,230)"/><stop offset="0.8500" stop-color="rgb(166,166,166)"/><stop offset="0.8667" stop-color="rgb(92,92,92)"/><stop offset="0.8833" stop-color="rgb(69,69,69)"/><stop offset="0.9000" stop-color="rgb(51,51,51)"/><stop offset="0.9167" stop-color="rgb(15,15,15)"/><stop offset="0.9333" stop-color="rgb(0,0,0)"/><stop offset="1.0000" stop-color="rgb(0,0,0)"/></linearGradient><mask id="hsam" maskUnits="userSpaceOnUse" x="30.00" y="10.40" width="60.00" height="41.60"><rect x="30.00" y="10.40" width="60.00" height="41.60" fill="url(#hsah)"/></mask><g mask="url(#hsam)"><rect x="30.00" y="30.40" width="60.00" height="21.60" fill="url(#hsav)"/><rect x="30.00" y="10.40" width="60.00" height="20.5" fill="#fff" fill-opacity="0.950"/></g>
</g></g>
<path d="M84.50 29.00 L84.50 32.20 L86.00 33.00 L103.60 33.00 L106.70 36.30 L138.00 36.80 L141.00 39.20 L145.60 39.60 L145.88 39.73 L145.88 41.28 L144.32 42.84 L144.32 44.39 L144.32 45.95 L144.32 47.50 L144.32 49.06 L142.77 50.61 L142.77 52.17 L142.77 53.72 L142.77 55.28 L141.21 56.83 L141.21 58.39 L141.21 59.94 L141.21 61.50 L141.21 63.05 L139.66 64.61 L139.66 66.16 L139.66 67.72 L139.66 69.28 L139.66 70.83 L139.66 72.38 L139.66 73.94 L138.10 75.50 L138.10 77.05 L138.10 78.60 L138.10 80.16 L138.10 81.72 L138.10 83.27 L138.10 84.82 L136.55 84.82 L136.55 86.38 L136.55 87.94 L136.55 89.49 L135.00 89.49 L135.00 91.04 L135.00 92.60 L135.00 94.16 L133.44 94.16 L133.44 95.71 L133.44 97.26 L131.88 98.82 L131.88 100.38 L130.33 101.93 L130.33 103.48 L128.77 103.48 L128.77 105.04 L128.77 106.59 L127.22 106.59 L127.22 108.15 L127.22 109.70 L125.66 109.70 L125.66 111.26 L124.11 111.26 L124.11 112.81 L122.55 114.37 L122.55 115.92 L121.00 115.92 L121.00 117.48 L119.44 117.48 L119.44 119.03 L117.89 119.03 L117.89 120.59 L116.33 120.59 L116.33 122.14 L114.78 122.14 L113.22 123.70 L111.67 123.70 L111.67 125.25 L110.11 125.25 L110.11 126.81 L108.56 126.81 L107.00 126.81 L107.00 128.36 L105.45 128.36 L103.89 129.92 L102.34 129.92 L102.34 131.47 L100.78 131.47 L99.23 131.47 L99.23 133.03 L97.67 133.03 L96.12 133.03 L94.56 134.59 L93.01 134.59 L91.45 134.59 L89.90 134.59 L88.34 134.59 L88.34 136.14 L86.79 136.14 L85.23 136.14 L83.68 136.14 L82.12 136.14 L82.12 137.69 L80.57 137.69 L80.10 137.60 L50.00 137.80" fill="none" stroke="#08080c" stroke-width="1.45" stroke-linejoin="round"/>
</g>
<linearGradient id="cb0a" x1="0" y1="0" x2="0" y2="1"><stop offset="0.0000" stop-color="rgb(200,32,32)"/><stop offset="0.0250" stop-color="rgb(211,36,36)"/><stop offset="0.0500" stop-color="rgb(223,40,40)"/><stop offset="0.0750" stop-color="rgb(227,45,37)"/><stop offset="0.1000" stop-color="rgb(229,51,35)"/><stop offset="0.1250" stop-color="rgb(232,58,32)"/><stop offset="0.1500" stop-color="rgb(235,72,29)"/><stop offset="0.1750" stop-color="rgb(238,87,26)"/><stop offset="0.2000" stop-color="rgb(240,102,24)"/><stop offset="0.2250" stop-color="rgb(240,116,24)"/><stop offset="0.2500" stop-color="rgb(240,130,24)"/><stop offset="0.2750" stop-color="rgb(242,149,22)"/><stop offset="0.3000" stop-color="rgb(246,171,18)"/><stop offset="0.3250" stop-color="rgb(249,194,16)"/><stop offset="0.3500" stop-color="rgb(251,218,16)"/><stop offset="0.3750" stop-color="rgb(254,235,5)"/><stop offset="0.4000" stop-color="rgb(236,235,19)"/><stop offset="0.4250" stop-color="rgb(208,227,43)"/><stop offset="0.4500" stop-color="rgb(178,217,62)"/><stop offset="0.4750" stop-color="rgb(162,209,73)"/><stop offset="0.5000" stop-color="rgb(150,204,85)"/><stop offset="0.5250" stop-color="rgb(145,202,102)"/><stop offset="0.5500" stop-color="rgb(139,201,119)"/><stop offset="0.5750" stop-color="rgb(134,200,136)"/><stop offset="0.6000" stop-color="rgb(131,200,154)"/><stop offset="0.6250" stop-color="rgb(128,200,170)"/><stop offset="0.6500" stop-color="rgb(128,200,184)"/><stop offset="0.6750" stop-color="rgb(128,200,198)"/><stop offset="0.7000" stop-color="rgb(112,196,212)"/><stop offset="0.7250" stop-color="rgb(91,190,226)"/><stop offset="0.7500" stop-color="rgb(48,176,240)"/><stop offset="0.7750" stop-color="rgb(48,154,224)"/><stop offset="0.8000" stop-color="rgb(50,136,210)"/><stop offset="0.8250" stop-color="rgb(54,119,197)"/><stop offset="0.8500" stop-color="rgb(57,104,186)"/><stop offset="0.8750" stop-color="rgb(59,90,176)"/><stop offset="0.9000" stop-color="rgb(61,77,165)"/><stop offset="0.9250" stop-color="rgb(63,65,156)"/><stop offset="0.9500" stop-color="rgb(66,56,148)"/><stop offset="0.9750" stop-color="rgb(69,49,140)"/><stop offset="1.0000" stop-color="rgb(70,48,138)"/></linearGradient>
<linearGradient id="cb0b" x1="0" y1="0" x2="0" y2="1"><stop offset="0.0000" stop-color="rgb(255,255,255)"/><stop offset="0.0500" stop-color="rgb(244,247,247)"/><stop offset="0.1000" stop-color="rgb(233,239,239)"/><stop offset="0.1500" stop-color="rgb(222,232,232)"/><stop offset="0.2000" stop-color="rgb(211,224,224)"/><stop offset="0.2500" stop-color="rgb(200,216,216)"/><stop offset="0.3000" stop-color="rgb(192,210,211)"/><stop offset="0.3500" stop-color="rgb(184,203,206)"/><stop offset="0.4000" stop-color="rgb(176,197,202)"/><stop offset="0.4500" stop-color="rgb(168,190,197)"/><stop offset="0.5000" stop-color="rgb(160,184,192)"/><stop offset="0.5500" stop-color="rgb(152,174,186)"/><stop offset="0.6000" stop-color="rgb(144,164,180)"/><stop offset="0.6500" stop-color="rgb(136,154,174)"/><stop offset="0.7000" stop-color="rgb(128,144,168)"/><stop offset="0.7500" stop-color="rgb(117,130,154)"/><stop offset="0.8000" stop-color="rgb(106,115,140)"/><stop offset="0.8500" stop-color="rgb(96,100,125)"/><stop offset="0.9000" stop-color="rgb(85,86,111)"/><stop offset="0.9500" stop-color="rgb(73,73,98)"/><stop offset="1.0000" stop-color="rgb(61,60,86)"/></linearGradient>
<rect x="299.20" y="30.40" width="9.80" height="156.10" fill="url(#cb0a)"/>
<rect x="299.20" y="186.50" width="9.80" height="155.00" fill="url(#cb0b)"/>
<rect x="299.20" y="186.50" width="0.6" height="100.00" fill="#9a9aa0" fill-opacity="0.8"/>
<g opacity="0.999"><text x="67.60" y="21.20" font-size="21" text-anchor="start" font-weight="normal" >a. Au target</text>
<text x="292.40" y="17.50" font-size="24" text-anchor="start" font-weight="bold" >a)</text>
<text x="53.80" y="40.60" font-size="17" text-anchor="end" font-weight="normal" >0</text>
<text x="57.40" y="70.60" font-size="17" text-anchor="end" font-weight="normal" >-200</text>
<text x="57.40" y="99.90" font-size="17" text-anchor="end" font-weight="normal" >-400</text>
<text x="57.40" y="132.80" font-size="17" text-anchor="end" font-weight="normal" >-600</text>
<text x="57.40" y="162.20" font-size="17" text-anchor="end" font-weight="normal" >-800</text>
<text x="57.40" y="192.50" font-size="17" text-anchor="end" font-weight="normal" >-1000</text>
<text x="57.40" y="223.40" font-size="17" text-anchor="end" font-weight="normal" >-1200</text>
<text x="57.40" y="254.90" font-size="17" text-anchor="end" font-weight="normal" >-1400</text>
<text x="57.40" y="288.10" font-size="17" text-anchor="end" font-weight="normal" >-1600</text>
<text x="57.40" y="317.70" font-size="17" text-anchor="end" font-weight="normal" >-1800</text>
<text x="57.40" y="346.40" font-size="17" text-anchor="end" font-weight="normal" >-2000</text>
<text x="56.50" y="360.30" font-size="17" text-anchor="middle" font-weight="normal" >0</text>
<text x="139.50" y="360.30" font-size="17" text-anchor="middle" font-weight="normal" >500</text>
<text x="220.00" y="360.30" font-size="17" text-anchor="middle" font-weight="normal" >1000</text>
<text x="295.50" y="360.30" font-size="17" text-anchor="middle" font-weight="normal" >1500</text>
<text x="179.00" y="378.00" font-size="21" text-anchor="middle" font-weight="normal" >r [μm]</text>
<text transform="translate(14.80,137.65) rotate(-90)" font-size="21" text-anchor="middle">z[μm]</text>
<text x="312.00" y="39.10" font-size="17" text-anchor="start" font-weight="normal" >100.0</text>
<text x="311.00" y="190.00" font-size="17" text-anchor="start" font-weight="normal" >0.085</text>
<text x="311.30" y="346.80" font-size="17" text-anchor="start" font-weight="normal" >0</text>
<text transform="translate(338.50,272.70) rotate(-90)" font-size="21" text-anchor="middle">temperature, eV</text></g>
<!-- panel 1 -->
<clipPath id="clip1"><rect x="407.50" y="30.40" width="232.60" height="311.10"/></clipPath>
<clipPath id="reg1"><path d="M430.70 29.00 L430.70 32.50 L432.00 33.60 L487.50 33.80 L489.00 36.00 L512.70 36.00 L515.00 38.60 L517.40 39.10 L517.90 39.73 L517.90 41.28 L517.90 42.84 L517.90 44.39 L517.90 45.95 L517.90 47.50 L517.90 49.06 L517.90 50.61 L517.90 52.17 L517.90 53.72 L517.90 55.28 L517.90 56.83 L517.90 58.39 L517.90 59.94 L517.90 61.50 L517.90 63.05 L517.90 64.61 L517.90 66.16 L517.90 67.72 L517.90 69.28 L517.90 70.83 L517.90 72.38 L517.90 73.94 L517.90 75.50 L517.90 77.05 L517.90 78.60 L517.90 80.16 L517.90 81.72 L517.90 83.27 L517.90 84.82 L517.90 86.38 L517.90 87.94 L517.90 89.49 L516.35 91.04 L516.35 92.60 L516.35 94.16 L516.35 95.71 L516.35 97.26 L514.79 98.82 L514.79 100.38 L514.79 101.93 L514.79 103.48 L513.24 105.04 L513.24 106.59 L513.24 108.15 L511.69 109.70 L511.69 111.26 L511.69 112.81 L510.13 114.37 L510.13 115.92 L510.13 117.48 L508.57 117.48 L508.57 119.03 L507.02 120.59 L507.02 122.14 L505.46 123.70 L505.46 125.25 L503.91 125.25 L503.91 126.81 L502.36 128.36 L502.36 129.92 L500.80 129.92 L500.80 131.47 L499.25 131.47 L499.25 133.03 L499.25 134.59 L497.69 134.59 L497.69 136.14 L496.13 136.14 L496.13 137.69 L494.58 137.69 L494.58 139.25 L493.02 139.25 L493.02 140.81 L491.47 142.36 L489.91 143.91 L488.36 145.47 L486.81 147.03 L485.25 147.03 L485.25 148.58 L483.69 148.58 L483.69 150.13 L482.14 150.13 L482.14 151.69 L480.58 151.69 L479.03 153.25 L477.48 153.25 L477.48 154.80 L475.92 154.80 L474.37 156.35 L472.81 156.35 L472.81 157.91 L471.25 157.91 L469.70 157.91 L469.70 159.47 L468.14 159.47 L466.59 161.02 L465.03 161.02 L463.48 161.02 L463.48 162.57 L461.93 162.57 L460.37 164.13 L458.81 164.13 L457.26 165.69 L455.70 165.69 L454.15 165.69 L454.15 167.24 L452.60 167.24 L451.04 167.24 L449.49 167.24 L449.49 168.79 L447.93 168.79 L446.38 168.79 L444.82 168.79 L443.26 170.35 L441.71 170.35 L440.15 170.35 L438.60 170.35 L437.05 171.91 L435.49 171.91 L433.94 171.91 L432.38 171.91 L432.60 172.40 L400.00 172.50 L367.50 172.50 L367.50 29.00 Z M367.50 20.40 h63.20 v20 h-63.20 Z"/></clipPath>
<g clip-path="url(#clip1)">
<g filter="url(#low1)"><rect x="377.50" y="0.40" width="292.60" height="371.10" fill="#000"/>
<path d="M430.70 29.00 L430.70 32.50 L432.00 33.60 L487.50 33.80 L489.00 36.00 L512.70 36.00 L515.00 38.60 L517.40 39.10 L517.90 39.73 L517.90 41.28 L517.90 42.84 L517.90 44.39 L517.90 45.95 L517.90 47.50 L517.90 49.06 L517.90 50.61 L517.90 52.17 L517.90 53.72 L517.90 55.28 L517.90 56.83 L517.90 58.39 L517.90 59.94 L517.90 61.50 L517.90 63.05 L517.90 64.61 L517.90 66.16 L517.90 67.72 L517.90 69.28 L517.90 70.83 L517.90 72.38 L517.90 73.94 L517.90 75.50 L517.90 77.05 L517.90 78.60 L517.90 80.16 L517.90 81.72 L517.90 83.27 L517.90 84.82 L517.90 86.38 L517.90 87.94 L517.90 89.49 L516.35 91.04 L516.35 92.60 L516.35 94.16 L516.35 95.71 L516.35 97.26 L514.79 98.82 L514.79 100.38 L514.79 101.93 L514.79 103.48 L513.24 105.04 L513.24 106.59 L513.24 108.15 L511.69 109.70 L511.69 111.26 L511.69 112.81 L510.13 114.37 L510.13 115.92 L510.13 117.48 L508.57 117.48 L508.57 119.03 L507.02 120.59 L507.02 122.14 L505.46 123.70 L505.46 125.25 L503.91 125.25 L503.91 126.81 L502.36 128.36 L502.36 129.92 L500.80 129.92 L500.80 131.47 L499.25 131.47 L499.25 133.03 L499.25 134.59 L497.69 134.59 L497.69 136.14 L496.13 136.14 L496.13 137.69 L494.58 137.69 L494.58 139.25 L493.02 139.25 L493.02 140.81 L491.47 142.36 L489.91 143.91 L488.36 145.47 L486.81 147.03 L485.25 147.03 L485.25 148.58 L483.69 148.58 L483.69 150.13 L482.14 150.13 L482.14 151.69 L480.58 151.69 L479.03 153.25 L477.48 153.25 L477.48 154.80 L475.92 154.80 L474.37 156.35 L472.81 156.35 L472.81 157.91 L471.25 157.91 L469.70 157.91 L469.70 159.47 L468.14 159.47 L466.59 161.02 L465.03 161.02 L463.48 161.02 L463.48 162.57 L461.93 162.57 L460.37 164.13 L458.81 164.13 L457.26 165.69 L455.70 165.69 L454.15 165.69 L454.15 167.24 L452.60 167.24 L451.04 167.24 L449.49 167.24 L449.49 168.79 L447.93 168.79 L446.38 168.79 L444.82 168.79 L443.26 170.35 L441.71 170.35 L440.15 170.35 L438.60 170.35 L437.05 171.91 L435.49 171.91 L433.94 171.91 L432.38 171.91 L432.60 172.40 L400.00 172.50" fill="none" stroke="#fff" stroke-opacity="0.34" stroke-width="9.3" stroke-linejoin="round" filter="url(#halow1)"/>
<path d="M430.70 29.00 L430.70 32.50 L432.00 33.60 L487.50 33.80 L489.00 36.00 L512.70 36.00 L515.00 38.60 L517.40 39.10 L517.90 39.73 L517.90 41.28 L517.90 42.84 L517.90 44.39 L517.90 45.95 L517.90 47.50 L517.90 49.06 L517.90 50.61 L517.90 52.17 L517.90 53.72 L517.90 55.28 L517.90 56.83 L517.90 58.39 L517.90 59.94 L517.90 61.50 L517.90 63.05 L517.90 64.61 L517.90 66.16 L517.90 67.72 L517.90 69.28 L517.90 70.83 L517.90 72.38 L517.90 73.94 L517.90 75.50 L517.90 77.05 L517.90 78.60 L517.90 80.16 L517.90 81.72 L517.90 83.27 L517.90 84.82 L517.90 86.38 L517.90 87.94 L517.90 89.49 L516.35 91.04 L516.35 92.60 L516.35 94.16 L516.35 95.71 L516.35 97.26 L514.79 98.82 L514.79 100.38 L514.79 101.93 L514.79 103.48 L513.24 105.04 L513.24 106.59 L513.24 108.15 L511.69 109.70 L511.69 111.26 L511.69 112.81 L510.13 114.37 L510.13 115.92 L510.13 117.48 L508.57 117.48 L508.57 119.03 L507.02 120.59 L507.02 122.14 L505.46 123.70 L505.46 125.25 L503.91 125.25 L503.91 126.81 L502.36 128.36 L502.36 129.92 L500.80 129.92 L500.80 131.47 L499.25 131.47 L499.25 133.03 L499.25 134.59 L497.69 134.59 L497.69 136.14 L496.13 136.14 L496.13 137.69 L494.58 137.69 L494.58 139.25 L493.02 139.25 L493.02 140.81 L491.47 142.36 L489.91 143.91 L488.36 145.47 L486.81 147.03 L485.25 147.03 L485.25 148.58 L483.69 148.58 L483.69 150.13 L482.14 150.13 L482.14 151.69 L480.58 151.69 L479.03 153.25 L477.48 153.25 L477.48 154.80 L475.92 154.80 L474.37 156.35 L472.81 156.35 L472.81 157.91 L471.25 157.91 L469.70 157.91 L469.70 159.47 L468.14 159.47 L466.59 161.02 L465.03 161.02 L463.48 161.02 L463.48 162.57 L461.93 162.57 L460.37 164.13 L458.81 164.13 L457.26 165.69 L455.70 165.69 L454.15 165.69 L454.15 167.24 L452.60 167.24 L451.04 167.24 L449.49 167.24 L449.49 168.79 L447.93 168.79 L446.38 168.79 L444.82 168.79 L443.26 170.35 L441.71 170.35 L440.15 170.35 L438.60 170.35 L437.05 171.91 L435.49 171.91 L433.94 171.91 L432.38 171.91 L432.60 172.40 L400.00 172.50" fill="none" stroke="#fff" stroke-width="5.1" stroke-linejoin="round" filter="url(#halo1)"/></g>
<rect x="432.20" y="30.40" width="94.50" height="3.00" fill="url(#topfade)"/>
<g clip-path="url(#reg1)"><g filter="url(#cm1)">
<rect x="347.50" y="-29.60" width="352.60" height="431.10" fill="#000"/>
<g filter="url(#b1_0)">
<path d="M390.00 54.60 L415.70 56.20 L423.50 65.60 L427.40 75.00 L429.00 79.40 L426.60 90.40 L429.00 104.50 L433.70 115.50 L438.40 117.00 L445.50 109.20 L447.00 101.30 L443.90 95.90 L439.20 93.50 L447.00 88.80 L459.60 84.10 L469.00 79.40 L478.40 81.00 L487.80 74.70 L494.80 68.80 L489.30 64.80 L481.50 67.20 L473.70 70.30 L465.80 73.50 L458.00 73.50 L451.70 67.20 L447.00 57.80 L445.50 50.00 L442.30 48.40 L437.60 51.50 L433.70 42.10 L430.60 28.00 L390.00 28.00 Z" fill="rgb(33,33,33)"/>
</g>
<g filter="url(#b1_1)">
<path d="M390.00 56.00 L415.00 57.00 L422.00 66.00 L424.00 75.00 L390.00 78.00 Z" fill="rgb(31,31,31)"/>
</g>
<g filter="url(#b1_2)">
<path d="M390.00 54.60 L415.70 56.20 L423.50 65.60 L427.40 75.00 L429.00 79.40 L426.60 90.40 L429.00 104.50 L433.70 115.50 L438.40 117.00 L445.50 109.20 L447.00 101.30 L443.90 95.90 L439.20 93.50 L447.00 88.80 L459.60 84.10 L469.00 79.40 L478.40 81.00 L487.80 74.70 L494.80 68.80 L489.30 64.80 L481.50 67.20 L473.70 70.30 L465.80 73.50 L458.00 73.50 L451.70 67.20 L447.00 57.80 L445.50 50.00 L442.30 48.40 L437.60 51.50 L433.70 42.10 L430.60 28.00 L390.00 28.00 Z" fill="rgb(74,74,74)"/>
</g>
<g filter="url(#b1_3)">
<path d="M466 51 C474 54.5 484 61 492 66" fill="none" stroke="rgb(26,26,26)" stroke-width="3.5" stroke-linecap="round"/>
</g>
<g filter="url(#b1_4)">
<path d="M390.00 52.00 L418.00 53.00 L426.00 64.00 L430.00 76.00 L429.00 90.00 L432.00 103.00 L437.00 112.00 L442.00 107.00 L443.00 100.00 L438.00 93.00 L445.00 86.00 L456.00 81.00 L462.00 78.00 L457.00 76.50 L450.00 70.00 L445.00 60.00 L443.00 53.00 L438.00 55.00 L432.00 44.00 L429.00 28.00 L390.00 28.00 Z" fill="rgb(92,92,92)"/>
</g>
<g filter="url(#b1_5)">
<path d="M390.00 20.00 L431.00 20.00 L431.50 36.00 L436.00 55.00 L443.00 66.00 L452.00 76.00 L456.00 80.00 L448.00 83.00 L438.00 82.00 L433.00 74.00 L428.00 64.00 L420.00 54.00 L390.00 50.00 Z" fill="rgb(110,110,110)"/>
</g>
<linearGradient id="hsbv" gradientUnits="userSpaceOnUse" x1="0" y1="0" x2="0" y2="22.60"><stop offset="0.0000" stop-color="#fff" stop-opacity="0.920"/><stop offset="0.1150" stop-color="#fff" stop-opacity="0.860"/><stop offset="0.1991" stop-color="#fff" stop-opacity="0.780"/><stop offset="0.3142" stop-color="#fff" stop-opacity="0.540"/><stop offset="0.4027" stop-color="#fff" stop-opacity="0.400"/><stop offset="0.5000" stop-color="#fff" stop-opacity="0.300"/><stop offset="0.6018" stop-color="#fff" stop-opacity="0.220"/><stop offset="0.6903" stop-color="#fff" stop-opacity="0.170"/><stop offset="0.8009" stop-color="#fff" stop-opacity="0.090"/><stop offset="0.9115" stop-color="#fff" stop-opacity="0.030"/><stop offset="1.0000" stop-color="#fff" stop-opacity="0.000"/></linearGradient><rect shape-rendering="crispEdges" x="387.00" y="10.40" width="44.00" height="20" fill="#fff" fill-opacity="0.920"/><rect shape-rendering="crispEdges" x="387.00" y="0" width="1.00" height="22.60" fill="url(#hsbv)" transform="translate(0,30.40) scale(1,1.0000)"/><rect shape-rendering="crispEdges" x="388.00" y="0" width="1.00" height="22.60" fill="url(#hsbv)" transform="translate(0,30.40) scale(1,1.0000)"/><rect shape-rendering="crispEdges" x="389.00" y="0" width="1.00" height="22.60" fill="url(#hsbv)" transform="translate(0,30.40) scale(1,1.0000)"/><rect shape-rendering="crispEdges" x="390.00" y="0" width="1.00" height="22.60" fill="url(#hsbv)" transform="translate(0,30.40) scale(1,1.0000)"/><rect shape-rendering="crispEdges" x="391.00" y="0" width="1.00" height="22.60" fill="url(#hsbv)" transform="translate(0,30.40) scale(1,1.0000)"/><rect shape-rendering="crispEdges" x="392.00" y="0" width="1.00" height="22.60" fill="url(#hsbv)" transform="translate(0,30.40) scale(1,1.0000)"/><rect shape-rendering="crispEdges" x="393.00" y="0" width="1.00" height="22.60" fill="url(#hsbv)" transform="translate(0,30.40) scale(1,1.0000)"/><rect shape-rendering="crispEdges" x="394.00" y="0" width="1.00" height="22.60" fill="url(#hsbv)" transform="translate(0,30.40) scale(1,1.0000)"/><rect shape-rendering="crispEdges" x="395.00" y="0" width="1.00" height="22.60" fill="url(#hsbv)" transform="translate(0,30.40) scale(1,1.0000)"/><rect shape-rendering="crispEdges" x="396.00" y="0" width="1.00" height="22.60" fill="url(#hsbv)" transform="translate(0,30.40) scale(1,1.0000)"/><rect shape-rendering="crispEdges" x="397.00" y="0" width="1.00" height="22.60" fill="url(#hsbv)" transform="translate(0,30.40) scale(1,1.0000)"/><rect shape-rendering="crispEdges" x="398.00" y="0" width="1.00" height="22.60" fill="url(#hsbv)" transform="translate(0,30.40) scale(1,1.0000)"/><rect shape-rendering="crispEdges" x="399.00" y="0" width="1.00" height="22.60" fill="url(#hsbv)" transform="translate(0,30.40) scale(1,1.0000)"/><rect shape-rendering="crispEdges" x="400.00" y="0" width="1.00" height="22.60" fill="url(#hsbv)" transform="translate(0,30.40) scale(1,1.0000)"/><rect shape-rendering="crispEdges" x="401.00" y="0" width="1.00" height="22.60" fill="url(#hsbv)" transform="translate(0,30.40) scale(1,1.0000)"/><rect shape-rendering="crispEdges" x="402.00" y="0" width="1.00" height="22.60" fill="url(#hsbv)" transform="translate(0,30.40) scale(1,1.0000)"/><rect shape-rendering="crispEdges" x="403.00" y="0" width="1.00" height="22.60" fill="url(#hsbv)" transform="translate(0,30.40) scale(1,1.0000)"/><rect shape-rendering="crispEdges" x="404.00" y="0" width="1.00" height="22.60" fill="url(#hsbv)" transform="translate(0,30.40) scale(1,1.0000)"/><rect shape-rendering="crispEdges" x="405.00" y="0" width="1.00" height="22.60" fill="url(#hsbv)" transform="translate(0,30.40) scale(1,1.0000)"/><rect shape-rendering="crispEdges" x="406.00" y="0" width="1.00" height="22.60" fill="url(#hsbv)" transform="translate(0,30.40) scale(1,1.0000)"/><rect shape-rendering="crispEdges" x="407.00" y="0" width="1.00" height="22.60" fill="url(#hsbv)" transform="translate(0,30.40) scale(1,1.0000)"/><rect shape-rendering="crispEdges" x="408.00" y="0" width="1.00" height="22.60" fill="url(#hsbv)" transform="translate(0,30.40) scale(1,0.9997)"/><rect shape-rendering="crispEdges" x="409.00" y="0" width="1.00" height="22.60" fill="url(#hsbv)" transform="translate(0,30.40) scale(1,0.9985)"/><rect shape-rendering="crispEdges" x="410.00" y="0" width="1.00" height="22.60" fill="url(#hsbv)" transform="translate(0,30.40) scale(1,0.9962)"/><rect shape-rendering="crispEdges" x="411.00" y="0" width="1.00" height="22.60" fill="url(#hsbv)" transform="translate(0,30.40) scale(1,0.9926)"/><rect shape-rendering="crispEdges" x="412.00" y="0" width="1.00" height="22.60" fill="url(#hsbv)" transform="translate(0,30.40) scale(1,0.9876)"/><rect shape-rendering="crispEdges" x="413.00" y="0" width="1.00" height="22.60" fill="url(#hsbv)" transform="translate(0,30.40) scale(1,0.9811)"/><rect shape-rendering="crispEdges" x="414.00" y="0" width="1.00" height="22.60" fill="url(#hsbv)" transform="translate(0,30.40) scale(1,0.9730)"/><rect shape-rendering="crispEdges" x="415.00" y="0" width="1.00" height="22.60" fill="url(#hsbv)" transform="translate(0,30.40) scale(1,0.9630)"/><rect shape-rendering="crispEdges" x="416.00" y="0" width="1.00" height="22.60" fill="url(#hsbv)" transform="translate(0,30.40) scale(1,0.9511)"/><rect shape-rendering="crispEdges" x="417.00" y="0" width="1.00" height="22.60" fill="url(#hsbv)" transform="translate(0,30.40) scale(1,0.9371)"/><rect shape-rendering="crispEdges" x="418.00" y="0" width="1.00" height="22.60" fill="url(#hsbv)" transform="translate(0,30.40) scale(1,0.9208)"/><rect shape-rendering="crispEdges" x="419.00" y="0" width="1.00" height="22.60" fill="url(#hsbv)" transform="translate(0,30.40) scale(1,0.9021)"/><rect shape-rendering="crispEdges" x="420.00" y="0" width="1.00" height="22.60" fill="url(#hsbv)" transform="translate(0,30.40) scale(1,0.8805)"/><rect shape-rendering="crispEdges" x="421.00" y="0" width="1.00" height="22.60" fill="url(#hsbv)" transform="translate(0,30.40) scale(1,0.8559)"/><rect shape-rendering="crispEdges" x="422.00" y="0" width="1.00" height="22.60" fill="url(#hsbv)" transform="translate(0,30.40) scale(1,0.8277)"/><rect shape-rendering="crispEdges" x="423.00" y="0" width="1.00" height="22.60" fill="url(#hsbv)" transform="translate(0,30.40) scale(1,0.7956)"/><rect shape-rendering="crispEdges" x="424.00" y="0" width="1.00" height="22.60" fill="url(#hsbv)" transform="translate(0,30.40) scale(1,0.7586)"/><rect shape-rendering="crispEdges" x="425.00" y="0" width="1.00" height="22.60" fill="url(#hsbv)" transform="translate(0,30.40) scale(1,0.7159)"/><rect shape-rendering="crispEdges" x="426.00" y="0" width="1.00" height="22.60" fill="url(#hsbv)" transform="translate(0,30.40) scale(1,0.6660)"/><rect shape-rendering="crispEdges" x="427.00" y="0" width="1.00" height="22.60" fill="url(#hsbv)" transform="translate(0,30.40) scale(1,0.6065)"/><rect shape-rendering="crispEdges" x="428.00" y="0" width="1.00" height="22.60" fill="url(#hsbv)" transform="translate(0,30.40) scale(1,0.5332)"/><rect shape-rendering="crispEdges" x="429.00" y="0" width="1.00" height="22.60" fill="url(#hsbv)" transform="translate(0,30.40) scale(1,0.4372)"/><rect shape-rendering="crispEdges" x="430.00" y="0" width="1.00" height="22.60" fill="url(#hsbv)" transform="translate(0,30.40) scale(1,0.2889)"/>
</g></g>
<path d="M430.70 29.00 L430.70 32.50 L432.00 33.60 L487.50 33.80 L489.00 36.00 L512.70 36.00 L515.00 38.60 L517.40 39.10 L517.90 39.73 L517.90 41.28 L517.90 42.84 L517.90 44.39 L517.90 45.95 L517.90 47.50 L517.90 49.06 L517.90 50.61 L517.90 52.17 L517.90 53.72 L517.90 55.28 L517.90 56.83 L517.90 58.39 L517.90 59.94 L517.90 61.50 L517.90 63.05 L517.90 64.61 L517.90 66.16 L517.90 67.72 L517.90 69.28 L517.90 70.83 L517.90 72.38 L517.90 73.94 L517.90 75.50 L517.90 77.05 L517.90 78.60 L517.90 80.16 L517.90 81.72 L517.90 83.27 L517.90 84.82 L517.90 86.38 L517.90 87.94 L517.90 89.49 L516.35 91.04 L516.35 92.60 L516.35 94.16 L516.35 95.71 L516.35 97.26 L514.79 98.82 L514.79 100.38 L514.79 101.93 L514.79 103.48 L513.24 105.04 L513.24 106.59 L513.24 108.15 L511.69 109.70 L511.69 111.26 L511.69 112.81 L510.13 114.37 L510.13 115.92 L510.13 117.48 L508.57 117.48 L508.57 119.03 L507.02 120.59 L507.02 122.14 L505.46 123.70 L505.46 125.25 L503.91 125.25 L503.91 126.81 L502.36 128.36 L502.36 129.92 L500.80 129.92 L500.80 131.47 L499.25 131.47 L499.25 133.03 L499.25 134.59 L497.69 134.59 L497.69 136.14 L496.13 136.14 L496.13 137.69 L494.58 137.69 L494.58 139.25 L493.02 139.25 L493.02 140.81 L491.47 142.36 L489.91 143.91 L488.36 145.47 L486.81 147.03 L485.25 147.03 L485.25 148.58 L483.69 148.58 L483.69 150.13 L482.14 150.13 L482.14 151.69 L480.58 151.69 L479.03 153.25 L477.48 153.25 L477.48 154.80 L475.92 154.80 L474.37 156.35 L472.81 156.35 L472.81 157.91 L471.25 157.91 L469.70 157.91 L469.70 159.47 L468.14 159.47 L466.59 161.02 L465.03 161.02 L463.48 161.02 L463.48 162.57 L461.93 162.57 L460.37 164.13 L458.81 164.13 L457.26 165.69 L455.70 165.69 L454.15 165.69 L454.15 167.24 L452.60 167.24 L451.04 167.24 L449.49 167.24 L449.49 168.79 L447.93 168.79 L446.38 168.79 L444.82 168.79 L443.26 170.35 L441.71 170.35 L440.15 170.35 L438.60 170.35 L437.05 171.91 L435.49 171.91 L433.94 171.91 L432.38 171.91 L432.60 172.40 L400.00 172.50" fill="none" stroke="#08080c" stroke-width="1.45" stroke-linejoin="round"/>
</g>
<linearGradient id="cb1a" x1="0" y1="0" x2="0" y2="1"><stop offset="0.0000" stop-color="rgb(200,32,32)"/><stop offset="0.0250" stop-color="rgb(211,36,36)"/><stop offset="0.0500" stop-color="rgb(223,40,40)"/><stop offset="0.0750" stop-color="rgb(227,45,37)"/><stop offset="0.1000" stop-color="rgb(229,51,35)"/><stop offset="0.1250" stop-color="rgb(232,58,32)"/><stop offset="0.1500" stop-color="rgb(235,72,29)"/><stop offset="0.1750" stop-color="rgb(238,87,26)"/><stop offset="0.2000" stop-color="rgb(240,102,24)"/><stop offset="0.2250" stop-color="rgb(240,116,24)"/><stop offset="0.2500" stop-color="rgb(240,130,24)"/><stop offset="0.2750" stop-color="rgb(242,149,22)"/><stop offset="0.3000" stop-color="rgb(246,171,18)"/><stop offset="0.3250" stop-color="rgb(249,194,16)"/><stop offset="0.3500" stop-color="rgb(251,218,16)"/><stop offset="0.3750" stop-color="rgb(254,235,5)"/><stop offset="0.4000" stop-color="rgb(236,235,19)"/><stop offset="0.4250" stop-color="rgb(208,227,43)"/><stop offset="0.4500" stop-color="rgb(178,217,62)"/><stop offset="0.4750" stop-color="rgb(162,209,73)"/><stop offset="0.5000" stop-color="rgb(150,204,85)"/><stop offset="0.5250" stop-color="rgb(145,202,102)"/><stop offset="0.5500" stop-color="rgb(139,201,119)"/><stop offset="0.5750" stop-color="rgb(134,200,136)"/><stop offset="0.6000" stop-color="rgb(131,200,154)"/><stop offset="0.6250" stop-color="rgb(128,200,170)"/><stop offset="0.6500" stop-color="rgb(128,200,184)"/><stop offset="0.6750" stop-color="rgb(128,200,198)"/><stop offset="0.7000" stop-color="rgb(112,196,212)"/><stop offset="0.7250" stop-color="rgb(91,190,226)"/><stop offset="0.7500" stop-color="rgb(48,176,240)"/><stop offset="0.7750" stop-color="rgb(48,154,224)"/><stop offset="0.8000" stop-color="rgb(50,136,210)"/><stop offset="0.8250" stop-color="rgb(54,119,197)"/><stop offset="0.8500" stop-color="rgb(57,104,186)"/><stop offset="0.8750" stop-color="rgb(59,90,176)"/><stop offset="0.9000" stop-color="rgb(61,77,165)"/><stop offset="0.9250" stop-color="rgb(63,65,156)"/><stop offset="0.9500" stop-color="rgb(66,56,148)"/><stop offset="0.9750" stop-color="rgb(69,49,140)"/><stop offset="1.0000" stop-color="rgb(70,48,138)"/></linearGradient>
<linearGradient id="cb1b" x1="0" y1="0" x2="0" y2="1"><stop offset="0.0000" stop-color="rgb(255,255,255)"/><stop offset="0.0500" stop-color="rgb(244,247,247)"/><stop offset="0.1000" stop-color="rgb(233,239,239)"/><stop offset="0.1500" stop-color="rgb(222,232,232)"/><stop offset="0.2000" stop-color="rgb(211,224,224)"/><stop offset="0.2500" stop-color="rgb(200,216,216)"/><stop offset="0.3000" stop-color="rgb(192,210,211)"/><stop offset="0.3500" stop-color="rgb(184,203,206)"/><stop offset="0.4000" stop-color="rgb(176,197,202)"/><stop offset="0.4500" stop-color="rgb(168,190,197)"/><stop offset="0.5000" stop-color="rgb(160,184,192)"/><stop offset="0.5500" stop-color="rgb(152,174,186)"/><stop offset="0.6000" stop-color="rgb(144,164,180)"/><stop offset="0.6500" stop-color="rgb(136,154,174)"/><stop offset="0.7000" stop-color="rgb(128,144,168)"/><stop offset="0.7500" stop-color="rgb(117,130,154)"/><stop offset="0.8000" stop-color="rgb(106,115,140)"/><stop offset="0.8500" stop-color="rgb(96,100,125)"/><stop offset="0.9000" stop-color="rgb(85,86,111)"/><stop offset="0.9500" stop-color="rgb(73,73,98)"/><stop offset="1.0000" stop-color="rgb(61,60,86)"/></linearGradient>
<rect x="647.90" y="30.40" width="9.80" height="156.10" fill="url(#cb1a)"/>
<rect x="647.90" y="186.50" width="9.80" height="155.00" fill="url(#cb1b)"/>
<rect x="647.90" y="186.50" width="0.6" height="100.00" fill="#9a9aa0" fill-opacity="0.8"/>
<g opacity="0.999"><text x="414.60" y="21.20" font-size="21" text-anchor="start" font-weight="normal" >b. Cu target</text>
<text x="635.40" y="17.00" font-size="24" text-anchor="start" font-weight="bold" >b)</text>
<text x="400.00" y="40.60" font-size="17" text-anchor="end" font-weight="normal" >0</text>
<text x="403.60" y="70.60" font-size="17" text-anchor="end" font-weight="normal" >-200</text>
<text x="403.60" y="99.90" font-size="17" text-anchor="end" font-weight="normal" >-400</text>
<text x="403.60" y="132.80" font-size="17" text-anchor="end" font-weight="normal" >-600</text>
<text x="403.60" y="162.20" font-size="17" text-anchor="end" font-weight="normal" >-800</text>
<text x="403.60" y="192.50" font-size="17" text-anchor="end" font-weight="normal" >-1000</text>
<text x="403.60" y="223.40" font-size="17" text-anchor="end" font-weight="normal" >-1200</text>
<text x="403.60" y="254.90" font-size="17" text-anchor="end" font-weight="normal" >-1400</text>
<text x="403.60" y="288.10" font-size="17" text-anchor="end" font-weight="normal" >-1600</text>
<text x="403.60" y="317.70" font-size="17" text-anchor="end" font-weight="normal" >-1800</text>
<text x="403.60" y="346.40" font-size="17" text-anchor="end" font-weight="normal" >-2000</text>
<text x="406.00" y="360.30" font-size="17" text-anchor="middle" font-weight="normal" >0</text>
<text x="488.50" y="360.30" font-size="17" text-anchor="middle" font-weight="normal" >500</text>
<text x="569.00" y="360.30" font-size="17" text-anchor="middle" font-weight="normal" >1000</text>
<text x="644.50" y="360.30" font-size="17" text-anchor="middle" font-weight="normal" >1500</text>
<text x="533.50" y="378.00" font-size="21" text-anchor="middle" font-weight="normal" >r [μm]</text>
<text transform="translate(362.60,133.90) rotate(-90)" font-size="21" text-anchor="middle">z[μm]</text>
<text x="658.90" y="37.60" font-size="17" text-anchor="start" font-weight="normal" >100.0</text>
<text x="658.50" y="188.80" font-size="17" text-anchor="start" font-weight="normal" >0.085</text>
<text x="658.90" y="346.00" font-size="17" text-anchor="start" font-weight="normal" >0</text>
<text transform="translate(688.90,272.00) rotate(-90)" font-size="21" text-anchor="middle">temperature, eV</text></g>
<!-- panel 2 -->
<clipPath id="clip2"><rect x="756.60" y="30.40" width="232.60" height="311.10"/></clipPath>
<clipPath id="reg2"><path d="M779.30 29.00 L779.50 32.00 L781.00 33.40 L897.20 33.40 L900.40 35.40 L919.20 35.60 L923.00 37.80 L926.30 38.10 L926.10 38.17 L926.10 39.73 L926.10 41.28 L926.10 42.84 L926.10 44.39 L926.10 45.95 L926.10 47.50 L927.65 49.06 L927.65 50.61 L927.65 52.17 L927.65 53.72 L927.65 55.28 L927.65 56.83 L927.65 58.39 L927.65 59.94 L927.65 61.50 L927.65 63.05 L929.21 63.05 L929.21 64.61 L929.21 66.16 L929.21 67.72 L929.21 69.28 L929.21 70.83 L929.21 72.38 L929.21 73.94 L929.21 75.50 L929.21 77.05 L929.21 78.60 L929.21 80.16 L929.21 81.72 L929.21 83.27 L929.21 84.82 L929.21 86.38 L929.21 87.94 L929.21 89.49 L929.21 91.04 L929.21 92.60 L929.21 94.16 L929.21 95.71 L929.21 97.26 L927.65 98.82 L927.65 100.38 L927.65 101.93 L927.65 103.48 L927.65 105.04 L927.65 106.59 L926.10 108.15 L926.10 109.70 L926.10 111.26 L926.10 112.81 L926.10 114.37 L926.10 115.92 L924.54 115.92 L924.54 117.48 L924.54 119.03 L924.54 120.59 L924.54 122.14 L924.54 123.70 L922.99 125.25 L922.99 126.81 L922.99 128.36 L922.99 129.92 L922.99 131.47 L921.43 131.47 L921.43 133.03 L921.43 134.59 L921.43 136.14 L921.43 137.69 L919.88 137.69 L919.88 139.25 L919.88 140.81 L919.88 142.36 L918.32 143.91 L918.32 145.47 L918.32 147.03 L916.76 148.58 L916.76 150.13 L916.76 151.69 L915.21 151.69 L915.21 153.25 L915.21 154.80 L913.65 154.80 L913.65 156.35 L913.65 157.91 L912.10 159.47 L912.10 161.02 L912.10 162.57 L910.55 162.57 L910.55 164.13 L908.99 165.69 L908.99 167.24 L907.44 168.79 L905.88 170.35 L905.88 171.91 L904.33 171.91 L904.33 173.46 L902.77 175.01 L901.22 175.01 L901.22 176.57 L899.66 178.12 L898.11 179.68 L898.11 181.24 L896.55 181.24 L896.55 182.79 L895.00 182.79 L895.00 184.34 L895.00 185.90 L893.44 185.90 L893.44 187.46 L891.88 187.46 L891.88 189.01 L890.33 190.56 L888.77 192.12 L887.22 193.68 L887.22 195.23 L885.66 195.23 L885.66 196.78 L884.11 196.78 L884.11 198.34 L882.56 198.34 L882.56 199.90 L881.00 199.90 L881.00 201.45 L879.45 201.45 L877.89 203.00 L877.89 204.56 L876.34 204.56 L876.34 206.12 L874.78 206.12 L873.23 207.67 L871.67 207.67 L871.67 209.22 L870.12 209.22 L870.12 210.78 L868.56 210.78 L868.56 212.34 L867.00 212.34 L865.45 213.89 L863.89 213.89 L863.89 215.44 L862.34 215.44 L860.79 217.00 L859.23 217.00 L859.23 218.56 L857.68 218.56 L856.12 218.56 L856.12 220.11 L854.57 220.11 L853.01 221.66 L851.46 221.66 L851.46 223.22 L849.90 223.22 L848.35 223.22 L848.35 224.78 L846.79 224.78 L845.24 224.78 L845.24 226.33 L843.68 226.33 L842.12 226.33 L842.12 227.88 L840.57 227.88 L839.01 227.88 L839.01 229.44 L837.46 229.44 L835.90 229.44 L835.90 231.00 L834.35 231.00 L832.80 231.00 L831.24 232.55 L829.69 232.55 L828.13 232.55 L826.58 234.10 L825.02 234.10 L823.47 235.66 L821.91 235.66 L820.36 235.66 L818.80 235.66 L818.80 237.22 L817.25 237.22 L815.69 237.22 L814.13 238.77 L812.58 238.77 L811.02 238.77 L809.47 238.77 L809.47 240.32 L807.91 240.32 L806.36 240.32 L804.81 240.32 L803.25 240.32 L801.70 240.32 L801.70 241.88 L800.14 241.88 L798.59 241.88 L797.03 241.88 L795.48 241.88 L793.92 241.88 L792.37 243.44 L790.81 243.44 L789.25 243.44 L787.70 243.44 L786.14 243.44 L784.59 243.44 L783.03 243.44 L783.40 243.80 L750.00 244.10 L716.60 244.10 L716.60 29.00 Z M716.60 20.40 h62.70 v20 h-62.70 Z"/></clipPath>
<g clip-path="url(#clip2)">
<g filter="url(#low2)"><rect x="726.60" y="0.40" width="292.60" height="371.10" fill="#000"/>
<path d="M779.30 29.00 L779.50 32.00 L781.00 33.40 L897.20 33.40 L900.40 35.40 L919.20 35.60 L923.00 37.80 L926.30 38.10 L926.10 38.17 L926.10 39.73 L926.10 41.28 L926.10 42.84 L926.10 44.39 L926.10 45.95 L926.10 47.50 L927.65 49.06 L927.65 50.61 L927.65 52.17 L927.65 53.72 L927.65 55.28 L927.65 56.83 L927.65 58.39 L927.65 59.94 L927.65 61.50 L927.65 63.05 L929.21 63.05 L929.21 64.61 L929.21 66.16 L929.21 67.72 L929.21 69.28 L929.21 70.83 L929.21 72.38 L929.21 73.94 L929.21 75.50 L929.21 77.05 L929.21 78.60 L929.21 80.16 L929.21 81.72 L929.21 83.27 L929.21 84.82 L929.21 86.38 L929.21 87.94 L929.21 89.49 L929.21 91.04 L929.21 92.60 L929.21 94.16 L929.21 95.71 L929.21 97.26 L927.65 98.82 L927.65 100.38 L927.65 101.93 L927.65 103.48 L927.65 105.04 L927.65 106.59 L926.10 108.15 L926.10 109.70 L926.10 111.26 L926.10 112.81 L926.10 114.37 L926.10 115.92 L924.54 115.92 L924.54 117.48 L924.54 119.03 L924.54 120.59 L924.54 122.14 L924.54 123.70 L922.99 125.25 L922.99 126.81 L922.99 128.36 L922.99 129.92 L922.99 131.47 L921.43 131.47 L921.43 133.03 L921.43 134.59 L921.43 136.14 L921.43 137.69 L919.88 137.69 L919.88 139.25 L919.88 140.81 L919.88 142.36 L918.32 143.91 L918.32 145.47 L918.32 147.03 L916.76 148.58 L916.76 150.13 L916.76 151.69 L915.21 151.69 L915.21 153.25 L915.21 154.80 L913.65 154.80 L913.65 156.35 L913.65 157.91 L912.10 159.47 L912.10 161.02 L912.10 162.57 L910.55 162.57 L910.55 164.13 L908.99 165.69 L908.99 167.24 L907.44 168.79 L905.88 170.35 L905.88 171.91 L904.33 171.91 L904.33 173.46 L902.77 175.01 L901.22 175.01 L901.22 176.57 L899.66 178.12 L898.11 179.68 L898.11 181.24 L896.55 181.24 L896.55 182.79 L895.00 182.79 L895.00 184.34 L895.00 185.90 L893.44 185.90 L893.44 187.46 L891.88 187.46 L891.88 189.01 L890.33 190.56 L888.77 192.12 L887.22 193.68 L887.22 195.23 L885.66 195.23 L885.66 196.78 L884.11 196.78 L884.11 198.34 L882.56 198.34 L882.56 199.90 L881.00 199.90 L881.00 201.45 L879.45 201.45 L877.89 203.00 L877.89 204.56 L876.34 204.56 L876.34 206.12 L874.78 206.12 L873.23 207.67 L871.67 207.67 L871.67 209.22 L870.12 209.22 L870.12 210.78 L868.56 210.78 L868.56 212.34 L867.00 212.34 L865.45 213.89 L863.89 213.89 L863.89 215.44 L862.34 215.44 L860.79 217.00 L859.23 217.00 L859.23 218.56 L857.68 218.56 L856.12 218.56 L856.12 220.11 L854.57 220.11 L853.01 221.66 L851.46 221.66 L851.46 223.22 L849.90 223.22 L848.35 223.22 L848.35 224.78 L846.79 224.78 L845.24 224.78 L845.24 226.33 L843.68 226.33 L842.12 226.33 L842.12 227.88 L840.57 227.88 L839.01 227.88 L839.01 229.44 L837.46 229.44 L835.90 229.44 L835.90 231.00 L834.35 231.00 L832.80 231.00 L831.24 232.55 L829.69 232.55 L828.13 232.55 L826.58 234.10 L825.02 234.10 L823.47 235.66 L821.91 235.66 L820.36 235.66 L818.80 235.66 L818.80 237.22 L817.25 237.22 L815.69 237.22 L814.13 238.77 L812.58 238.77 L811.02 238.77 L809.47 238.77 L809.47 240.32 L807.91 240.32 L806.36 240.32 L804.81 240.32 L803.25 240.32 L801.70 240.32 L801.70 241.88 L800.14 241.88 L798.59 241.88 L797.03 241.88 L795.48 241.88 L793.92 241.88 L792.37 243.44 L790.81 243.44 L789.25 243.44 L787.70 243.44 L786.14 243.44 L784.59 243.44 L783.03 243.44 L783.40 243.80 L750.00 244.10" fill="none" stroke="#fff" stroke-opacity="0.34" stroke-width="10.08" stroke-linejoin="round" filter="url(#halow2)"/>
<path d="M779.30 29.00 L779.50 32.00 L781.00 33.40 L897.20 33.40 L900.40 35.40 L919.20 35.60 L923.00 37.80 L926.30 38.10 L926.10 38.17 L926.10 39.73 L926.10 41.28 L926.10 42.84 L926.10 44.39 L926.10 45.95 L926.10 47.50 L927.65 49.06 L927.65 50.61 L927.65 52.17 L927.65 53.72 L927.65 55.28 L927.65 56.83 L927.65 58.39 L927.65 59.94 L927.65 61.50 L927.65 63.05 L929.21 63.05 L929.21 64.61 L929.21 66.16 L929.21 67.72 L929.21 69.28 L929.21 70.83 L929.21 72.38 L929.21 73.94 L929.21 75.50 L929.21 77.05 L929.21 78.60 L929.21 80.16 L929.21 81.72 L929.21 83.27 L929.21 84.82 L929.21 86.38 L929.21 87.94 L929.21 89.49 L929.21 91.04 L929.21 92.60 L929.21 94.16 L929.21 95.71 L929.21 97.26 L927.65 98.82 L927.65 100.38 L927.65 101.93 L927.65 103.48 L927.65 105.04 L927.65 106.59 L926.10 108.15 L926.10 109.70 L926.10 111.26 L926.10 112.81 L926.10 114.37 L926.10 115.92 L924.54 115.92 L924.54 117.48 L924.54 119.03 L924.54 120.59 L924.54 122.14 L924.54 123.70 L922.99 125.25 L922.99 126.81 L922.99 128.36 L922.99 129.92 L922.99 131.47 L921.43 131.47 L921.43 133.03 L921.43 134.59 L921.43 136.14 L921.43 137.69 L919.88 137.69 L919.88 139.25 L919.88 140.81 L919.88 142.36 L918.32 143.91 L918.32 145.47 L918.32 147.03 L916.76 148.58 L916.76 150.13 L916.76 151.69 L915.21 151.69 L915.21 153.25 L915.21 154.80 L913.65 154.80 L913.65 156.35 L913.65 157.91 L912.10 159.47 L912.10 161.02 L912.10 162.57 L910.55 162.57 L910.55 164.13 L908.99 165.69 L908.99 167.24 L907.44 168.79 L905.88 170.35 L905.88 171.91 L904.33 171.91 L904.33 173.46 L902.77 175.01 L901.22 175.01 L901.22 176.57 L899.66 178.12 L898.11 179.68 L898.11 181.24 L896.55 181.24 L896.55 182.79 L895.00 182.79 L895.00 184.34 L895.00 185.90 L893.44 185.90 L893.44 187.46 L891.88 187.46 L891.88 189.01 L890.33 190.56 L888.77 192.12 L887.22 193.68 L887.22 195.23 L885.66 195.23 L885.66 196.78 L884.11 196.78 L884.11 198.34 L882.56 198.34 L882.56 199.90 L881.00 199.90 L881.00 201.45 L879.45 201.45 L877.89 203.00 L877.89 204.56 L876.34 204.56 L876.34 206.12 L874.78 206.12 L873.23 207.67 L871.67 207.67 L871.67 209.22 L870.12 209.22 L870.12 210.78 L868.56 210.78 L868.56 212.34 L867.00 212.34 L865.45 213.89 L863.89 213.89 L863.89 215.44 L862.34 215.44 L860.79 217.00 L859.23 217.00 L859.23 218.56 L857.68 218.56 L856.12 218.56 L856.12 220.11 L854.57 220.11 L853.01 221.66 L851.46 221.66 L851.46 223.22 L849.90 223.22 L848.35 223.22 L848.35 224.78 L846.79 224.78 L845.24 224.78 L845.24 226.33 L843.68 226.33 L842.12 226.33 L842.12 227.88 L840.57 227.88 L839.01 227.88 L839.01 229.44 L837.46 229.44 L835.90 229.44 L835.90 231.00 L834.35 231.00 L832.80 231.00 L831.24 232.55 L829.69 232.55 L828.13 232.55 L826.58 234.10 L825.02 234.10 L823.47 235.66 L821.91 235.66 L820.36 235.66 L818.80 235.66 L818.80 237.22 L817.25 237.22 L815.69 237.22 L814.13 238.77 L812.58 238.77 L811.02 238.77 L809.47 238.77 L809.47 240.32 L807.91 240.32 L806.36 240.32 L804.81 240.32 L803.25 240.32 L801.70 240.32 L801.70 241.88 L800.14 241.88 L798.59 241.88 L797.03 241.88 L795.48 241.88 L793.92 241.88 L792.37 243.44 L790.81 243.44 L789.25 243.44 L787.70 243.44 L786.14 243.44 L784.59 243.44 L783.03 243.44 L783.40 243.80 L750.00 244.10" fill="none" stroke="#fff" stroke-width="5.3549999999999995" stroke-linejoin="round" filter="url(#halo2)"/></g>
<rect x="780.80" y="30.40" width="157.20" height="3.00" fill="url(#topfade)"/>
<g clip-path="url(#reg2)"><g filter="url(#cm2)">
<rect x="696.60" y="-29.60" width="352.60" height="431.10" fill="#000"/>
<g filter="url(#b2_0)">
<path d="M740.00 28.00 L779.30 28.00 L779.30 31.40 L781.00 41.80 L783.60 50.40 L791.40 57.30 L801.70 62.50 L812.00 65.00 L820.70 69.40 L825.90 62.50 L832.80 59.00 L841.40 62.50 L850.00 71.10 L855.20 79.70 L856.90 88.00 L853.40 94.90 L846.60 105.20 L836.20 119.00 L825.90 132.80 L817.20 141.40 L808.60 144.90 L798.30 143.20 L787.90 139.70 L779.30 138.00 L770.70 139.70 L740.00 141.40 Z" fill="rgb(43,43,43)"/>
</g>
<g filter="url(#b2_1)">
<path d="M740.00 130.00 L770.00 132.00 L790.00 134.00 L808.00 139.00 L822.00 134.00 L830.00 140.00 L820.00 150.00 L808.00 154.00 L790.00 151.00 L775.00 148.00 L740.00 151.00 Z" fill="rgb(38,38,38)"/>
</g>
<g filter="url(#b2_2)">
<path d="M740.00 28.00 L779.30 28.00 L779.30 31.40 L781.00 41.80 L783.60 50.40 L791.40 57.30 L801.70 62.50 L812.00 65.00 L820.70 69.40 L825.90 62.50 L832.80 59.00 L841.40 62.50 L850.00 71.10 L855.20 79.70 L856.90 88.00 L853.40 94.90 L846.60 105.20 L836.20 119.00 L825.90 132.80 L817.20 141.40 L808.60 144.90 L798.30 143.20 L787.90 139.70 L779.30 138.00 L770.70 139.70 L740.00 141.40 Z" fill="rgb(56,56,56)"/>
</g>
<g filter="url(#b2_3)">
<path d="M740.00 28.00 L777.50 28.00 L778.00 31.40 L779.50 42.50 L782.30 51.50 L790.50 58.80 L801.00 64.00 L811.50 66.60 L820.70 71.40 L826.50 64.30 L832.80 61.00 L840.50 64.00 L848.60 72.00 L853.60 80.20 L855.20 88.00 L852.00 94.20 L845.20 104.30 L835.00 118.00 L824.70 131.70 L816.30 140.00 L808.50 143.20 L798.70 141.60 L788.30 138.10 L779.30 136.40 L770.60 138.10 L740.00 139.80 Z" fill="rgb(74,74,74)"/>
</g>
<g filter="url(#b2_4)">
<path d="M740.00 28.00 L774.00 28.00 L775.00 42.00 L779.00 54.00 L788.00 63.00 L800.00 69.00 L812.00 72.00 L821.00 77.00 L827.00 70.00 L833.00 67.00 L840.00 70.00 L845.00 78.00 L848.00 88.00 L844.00 98.00 L836.00 108.00 L827.00 120.00 L817.00 131.00 L808.00 136.00 L798.00 133.00 L786.00 128.00 L772.00 126.00 L740.00 128.00 Z" fill="rgb(88,88,88)"/>
</g>
<g filter="url(#b2_5)">
<path d="M740.00 28.00 L768.00 28.00 L769.00 45.00 L775.00 62.00 L789.00 73.00 L800.00 80.00 L810.00 88.00 L813.00 98.00 L807.00 108.00 L797.00 114.00 L786.00 114.00 L772.00 111.00 L740.00 111.00 Z" fill="rgb(115,115,115)"/>
</g>
<g filter="url(#b2_6)">
<path d="M730.00 20.00 L776.00 20.00 L772.00 50.00 L766.00 80.00 L761.00 100.00 L730.00 108.00 Z" fill="rgb(138,138,138)"/>
</g>
<g filter="url(#b2_7)">
<path d="M730.00 10.00 L778.50 10.00 L778.50 32.00 L771.00 35.50 L758.00 38.50 L730.00 40.50 Z" fill="rgb(162,162,162)"/>
</g>
</g></g>
<path d="M779.30 29.00 L779.50 32.00 L781.00 33.40 L897.20 33.40 L900.40 35.40 L919.20 35.60 L923.00 37.80 L926.30 38.10 L926.10 38.17 L926.10 39.73 L926.10 41.28 L926.10 42.84 L926.10 44.39 L926.10 45.95 L926.10 47.50 L927.65 49.06 L927.65 50.61 L927.65 52.17 L927.65 53.72 L927.65 55.28 L927.65 56.83 L927.65 58.39 L927.65 59.94 L927.65 61.50 L927.65 63.05 L929.21 63.05 L929.21 64.61 L929.21 66.16 L929.21 67.72 L929.21 69.28 L929.21 70.83 L929.21 72.38 L929.21 73.94 L929.21 75.50 L929.21 77.05 L929.21 78.60 L929.21 80.16 L929.21 81.72 L929.21 83.27 L929.21 84.82 L929.21 86.38 L929.21 87.94 L929.21 89.49 L929.21 91.04 L929.21 92.60 L929.21 94.16 L929.21 95.71 L929.21 97.26 L927.65 98.82 L927.65 100.38 L927.65 101.93 L927.65 103.48 L927.65 105.04 L927.65 106.59 L926.10 108.15 L926.10 109.70 L926.10 111.26 L926.10 112.81 L926.10 114.37 L926.10 115.92 L924.54 115.92 L924.54 117.48 L924.54 119.03 L924.54 120.59 L924.54 122.14 L924.54 123.70 L922.99 125.25 L922.99 126.81 L922.99 128.36 L922.99 129.92 L922.99 131.47 L921.43 131.47 L921.43 133.03 L921.43 134.59 L921.43 136.14 L921.43 137.69 L919.88 137.69 L919.88 139.25 L919.88 140.81 L919.88 142.36 L918.32 143.91 L918.32 145.47 L918.32 147.03 L916.76 148.58 L916.76 150.13 L916.76 151.69 L915.21 151.69 L915.21 153.25 L915.21 154.80 L913.65 154.80 L913.65 156.35 L913.65 157.91 L912.10 159.47 L912.10 161.02 L912.10 162.57 L910.55 162.57 L910.55 164.13 L908.99 165.69 L908.99 167.24 L907.44 168.79 L905.88 170.35 L905.88 171.91 L904.33 171.91 L904.33 173.46 L902.77 175.01 L901.22 175.01 L901.22 176.57 L899.66 178.12 L898.11 179.68 L898.11 181.24 L896.55 181.24 L896.55 182.79 L895.00 182.79 L895.00 184.34 L895.00 185.90 L893.44 185.90 L893.44 187.46 L891.88 187.46 L891.88 189.01 L890.33 190.56 L888.77 192.12 L887.22 193.68 L887.22 195.23 L885.66 195.23 L885.66 196.78 L884.11 196.78 L884.11 198.34 L882.56 198.34 L882.56 199.90 L881.00 199.90 L881.00 201.45 L879.45 201.45 L877.89 203.00 L877.89 204.56 L876.34 204.56 L876.34 206.12 L874.78 206.12 L873.23 207.67 L871.67 207.67 L871.67 209.22 L870.12 209.22 L870.12 210.78 L868.56 210.78 L868.56 212.34 L867.00 212.34 L865.45 213.89 L863.89 213.89 L863.89 215.44 L862.34 215.44 L860.79 217.00 L859.23 217.00 L859.23 218.56 L857.68 218.56 L856.12 218.56 L856.12 220.11 L854.57 220.11 L853.01 221.66 L851.46 221.66 L851.46 223.22 L849.90 223.22 L848.35 223.22 L848.35 224.78 L846.79 224.78 L845.24 224.78 L845.24 226.33 L843.68 226.33 L842.12 226.33 L842.12 227.88 L840.57 227.88 L839.01 227.88 L839.01 229.44 L837.46 229.44 L835.90 229.44 L835.90 231.00 L834.35 231.00 L832.80 231.00 L831.24 232.55 L829.69 232.55 L828.13 232.55 L826.58 234.10 L825.02 234.10 L823.47 235.66 L821.91 235.66 L820.36 235.66 L818.80 235.66 L818.80 237.22 L817.25 237.22 L815.69 237.22 L814.13 238.77 L812.58 238.77 L811.02 238.77 L809.47 238.77 L809.47 240.32 L807.91 240.32 L806.36 240.32 L804.81 240.32 L803.25 240.32 L801.70 240.32 L801.70 241.88 L800.14 241.88 L798.59 241.88 L797.03 241.88 L795.48 241.88 L793.92 241.88 L792.37 243.44 L790.81 243.44 L789.25 243.44 L787.70 243.44 L786.14 243.44 L784.59 243.44 L783.03 243.44 L783.40 243.80 L750.00 244.10" fill="none" stroke="#08080c" stroke-width="1.45" stroke-linejoin="round"/>
</g>
<linearGradient id="cb2a" x1="0" y1="0" x2="0" y2="1"><stop offset="0.0000" stop-color="rgb(200,32,32)"/><stop offset="0.0250" stop-color="rgb(211,36,36)"/><stop offset="0.0500" stop-color="rgb(223,40,40)"/><stop offset="0.0750" stop-color="rgb(227,45,37)"/><stop offset="0.1000" stop-color="rgb(229,51,35)"/><stop offset="0.1250" stop-color="rgb(232,58,32)"/><stop offset="0.1500" stop-color="rgb(235,72,29)"/><stop offset="0.1750" stop-color="rgb(238,87,26)"/><stop offset="0.2000" stop-color="rgb(240,102,24)"/><stop offset="0.2250" stop-color="rgb(240,116,24)"/><stop offset="0.2500" stop-color="rgb(240,130,24)"/><stop offset="0.2750" stop-color="rgb(242,149,22)"/><stop offset="0.3000" stop-color="rgb(246,171,18)"/><stop offset="0.3250" stop-color="rgb(249,194,16)"/><stop offset="0.3500" stop-color="rgb(251,218,16)"/><stop offset="0.3750" stop-color="rgb(254,235,5)"/><stop offset="0.4000" stop-color="rgb(236,235,19)"/><stop offset="0.4250" stop-color="rgb(208,227,43)"/><stop offset="0.4500" stop-color="rgb(178,217,62)"/><stop offset="0.4750" stop-color="rgb(162,209,73)"/><stop offset="0.5000" stop-color="rgb(150,204,85)"/><stop offset="0.5250" stop-color="rgb(145,202,102)"/><stop offset="0.5500" stop-color="rgb(139,201,119)"/><stop offset="0.5750" stop-color="rgb(134,200,136)"/><stop offset="0.6000" stop-color="rgb(131,200,154)"/><stop offset="0.6250" stop-color="rgb(128,200,170)"/><stop offset="0.6500" stop-color="rgb(128,200,184)"/><stop offset="0.6750" stop-color="rgb(128,200,198)"/><stop offset="0.7000" stop-color="rgb(112,196,212)"/><stop offset="0.7250" stop-color="rgb(91,190,226)"/><stop offset="0.7500" stop-color="rgb(48,176,240)"/><stop offset="0.7750" stop-color="rgb(48,154,224)"/><stop offset="0.8000" stop-color="rgb(50,136,210)"/><stop offset="0.8250" stop-color="rgb(54,119,197)"/><stop offset="0.8500" stop-color="rgb(57,104,186)"/><stop offset="0.8750" stop-color="rgb(59,90,176)"/><stop offset="0.9000" stop-color="rgb(61,77,165)"/><stop offset="0.9250" stop-color="rgb(63,65,156)"/><stop offset="0.9500" stop-color="rgb(66,56,148)"/><stop offset="0.9750" stop-color="rgb(69,49,140)"/><stop offset="1.0000" stop-color="rgb(70,48,138)"/></linearGradient>
<linearGradient id="cb2b" x1="0" y1="0" x2="0" y2="1"><stop offset="0.0000" stop-color="rgb(255,255,255)"/><stop offset="0.0500" stop-color="rgb(244,247,247)"/><stop offset="0.1000" stop-color="rgb(233,239,239)"/><stop offset="0.1500" stop-color="rgb(222,232,232)"/><stop offset="0.2000" stop-color="rgb(211,224,224)"/><stop offset="0.2500" stop-color="rgb(200,216,216)"/><stop offset="0.3000" stop-color="rgb(192,210,211)"/><stop offset="0.3500" stop-color="rgb(184,203,206)"/><stop offset="0.4000" stop-color="rgb(176,197,202)"/><stop offset="0.4500" stop-color="rgb(168,190,197)"/><stop offset="0.5000" stop-color="rgb(160,184,192)"/><stop offset="0.5500" stop-color="rgb(152,174,186)"/><stop offset="0.6000" stop-color="rgb(144,164,180)"/><stop offset="0.6500" stop-color="rgb(136,154,174)"/><stop offset="0.7000" stop-color="rgb(128,144,168)"/><stop offset="0.7500" stop-color="rgb(117,130,154)"/><stop offset="0.8000" stop-color="rgb(106,115,140)"/><stop offset="0.8500" stop-color="rgb(96,100,125)"/><stop offset="0.9000" stop-color="rgb(85,86,111)"/><stop offset="0.9500" stop-color="rgb(73,73,98)"/><stop offset="1.0000" stop-color="rgb(61,60,86)"/></linearGradient>
<rect x="997.00" y="30.40" width="9.80" height="156.10" fill="url(#cb2a)"/>
<rect x="997.00" y="186.50" width="9.80" height="155.00" fill="url(#cb2b)"/>
<rect x="997.00" y="186.50" width="0.6" height="100.00" fill="#9a9aa0" fill-opacity="0.8"/>
<g opacity="0.999"><text x="762.00" y="21.20" font-size="21" text-anchor="start" font-weight="normal" >c. Al target</text>
<text x="992.00" y="16.20" font-size="24" text-anchor="start" font-weight="bold" >c)</text>
<text x="750.00" y="40.60" font-size="17" text-anchor="end" font-weight="normal" >0</text>
<text x="753.60" y="70.60" font-size="17" text-anchor="end" font-weight="normal" >-200</text>
<text x="753.60" y="99.90" font-size="17" text-anchor="end" font-weight="normal" >-400</text>
<text x="753.60" y="132.80" font-size="17" text-anchor="end" font-weight="normal" >-600</text>
<text x="753.60" y="162.20" font-size="17" text-anchor="end" font-weight="normal" >-800</text>
<text x="753.60" y="192.50" font-size="17" text-anchor="end" font-weight="normal" >-1000</text>
<text x="753.60" y="223.40" font-size="17" text-anchor="end" font-weight="normal" >-1200</text>
<text x="753.60" y="254.90" font-size="17" text-anchor="end" font-weight="normal" >-1400</text>
<text x="753.60" y="288.10" font-size="17" text-anchor="end" font-weight="normal" >-1600</text>
<text x="753.60" y="317.70" font-size="17" text-anchor="end" font-weight="normal" >-1800</text>
<text x="753.60" y="346.40" font-size="17" text-anchor="end" font-weight="normal" >-2000</text>
<text x="757.60" y="360.30" font-size="17" text-anchor="middle" font-weight="normal" >0</text>
<text x="835.30" y="360.30" font-size="17" text-anchor="middle" font-weight="normal" >500</text>
<text x="915.80" y="360.30" font-size="17" text-anchor="middle" font-weight="normal" >1000</text>
<text x="990.50" y="360.30" font-size="17" text-anchor="middle" font-weight="normal" >1500</text>
<text x="873.50" y="378.00" font-size="21" text-anchor="middle" font-weight="normal" >r [μm]</text>
<text transform="translate(712.60,134.30) rotate(-90)" font-size="21" text-anchor="middle">z[μm]</text>
<text x="1011.80" y="36.80" font-size="17" text-anchor="start" font-weight="normal" >100.0</text>
<text x="1011.50" y="186.00" font-size="17" text-anchor="start" font-weight="normal" >0.085</text>
<text x="1011.40" y="342.70" font-size="17" text-anchor="start" font-weight="normal" >0</text>
<text transform="translate(1042.20,267.60) rotate(-90)" font-size="21" text-anchor="middle">temperature, eV</text></g>
<!-- panel 3 -->
<clipPath id="clip3"><rect x="1104.20" y="30.40" width="232.60" height="311.10"/></clipPath>
<clipPath id="reg3"><path d="M1126.20 29.00 L1126.40 32.00 L1128.00 33.40 L1313.50 33.50 L1318.00 35.30 L1325.00 35.50 L1329.00 41.80 L1329.00 49.90 L1327.80 53.30 L1326.90 65.00 L1326.90 120.00 L1326.57 120.59 L1326.57 122.14 L1326.57 123.70 L1326.57 125.25 L1326.57 126.81 L1326.57 128.36 L1326.57 129.92 L1326.57 131.47 L1326.57 133.03 L1328.12 133.03 L1328.12 134.59 L1328.12 136.14 L1328.12 137.69 L1328.12 139.25 L1328.12 140.81 L1328.12 142.36 L1328.12 143.91 L1328.12 145.47 L1329.67 147.03 L1329.67 148.58 L1329.67 150.13 L1329.67 151.69 L1329.67 153.25 L1329.67 154.80 L1329.67 156.35 L1329.67 157.91 L1329.67 159.47 L1329.67 161.02 L1329.67 162.57 L1329.67 164.13 L1329.67 165.69 L1329.67 167.24 L1329.67 168.79 L1329.67 170.35 L1328.12 170.35 L1328.12 171.91 L1328.12 173.46 L1328.12 175.01 L1326.57 175.01 L1326.57 176.57 L1326.57 178.12 L1326.57 179.68 L1325.01 179.68 L1325.01 181.24 L1325.01 182.79 L1323.45 184.34 L1323.45 185.90 L1323.45 187.46 L1321.90 187.46 L1321.90 189.01 L1321.90 190.56 L1320.35 190.56 L1320.35 192.12 L1320.35 193.68 L1318.79 195.23 L1318.79 196.78 L1317.24 198.34 L1317.24 199.90 L1315.68 201.45 L1315.68 203.00 L1314.12 204.56 L1314.12 206.12 L1312.57 207.67 L1312.57 209.22 L1311.02 210.78 L1311.02 212.34 L1309.46 213.89 L1309.46 215.44 L1307.90 217.00 L1307.90 218.56 L1306.35 218.56 L1306.35 220.11 L1306.35 221.66 L1304.80 221.66 L1304.80 223.22 L1303.24 224.78 L1301.68 226.33 L1301.68 227.88 L1300.13 227.88 L1300.13 229.44 L1298.58 229.44 L1298.58 231.00 L1297.02 232.55 L1295.47 234.10 L1295.47 235.66 L1293.91 235.66 L1293.91 237.22 L1292.36 237.22 L1292.36 238.77 L1290.80 240.32 L1289.25 241.88 L1287.69 243.44 L1287.69 244.99 L1286.13 244.99 L1286.13 246.54 L1284.58 246.54 L1284.58 248.10 L1283.03 248.10 L1283.03 249.66 L1281.47 249.66 L1281.47 251.21 L1279.91 251.21 L1279.91 252.76 L1278.36 252.76 L1278.36 254.32 L1276.81 255.88 L1275.25 255.88 L1275.25 257.43 L1273.70 257.43 L1273.70 258.98 L1272.14 258.98 L1272.14 260.54 L1270.59 260.54 L1270.59 262.09 L1269.03 262.09 L1267.48 263.65 L1265.92 265.20 L1264.37 265.20 L1264.37 266.76 L1262.81 266.76 L1262.81 268.31 L1261.26 268.31 L1261.26 269.87 L1259.70 269.87 L1258.14 271.42 L1256.59 271.42 L1256.59 272.98 L1255.04 272.98 L1255.04 274.53 L1253.48 274.53 L1251.92 276.09 L1250.37 277.64 L1248.82 277.64 L1248.82 279.20 L1247.26 279.20 L1245.70 280.75 L1244.15 280.75 L1244.15 282.31 L1242.60 282.31 L1242.60 283.87 L1241.04 283.87 L1239.49 285.42 L1237.93 285.42 L1237.93 286.97 L1236.38 286.97 L1234.82 286.97 L1234.82 288.53 L1233.27 288.53 L1231.71 290.08 L1230.15 290.08 L1230.15 291.64 L1228.60 291.64 L1227.05 291.64 L1225.49 293.19 L1223.93 293.19 L1223.93 294.75 L1222.38 294.75 L1220.83 294.75 L1220.83 296.30 L1219.27 296.30 L1217.72 296.30 L1216.16 297.86 L1214.61 297.86 L1213.05 299.41 L1211.50 299.41 L1209.94 300.97 L1208.38 300.97 L1206.83 300.97 L1206.83 302.52 L1205.28 302.52 L1203.72 302.52 L1202.16 304.08 L1200.61 304.08 L1199.06 304.08 L1197.50 305.63 L1195.94 305.63 L1194.39 305.63 L1192.84 307.19 L1191.28 307.19 L1189.73 307.19 L1188.17 308.74 L1186.62 308.74 L1185.06 308.74 L1183.51 310.30 L1181.95 310.30 L1180.39 310.30 L1178.84 310.30 L1177.29 311.85 L1175.73 311.85 L1174.17 311.85 L1172.62 311.85 L1171.07 313.41 L1169.51 313.41 L1167.95 313.41 L1166.40 313.41 L1164.85 313.41 L1164.85 314.96 L1163.29 314.96 L1161.74 314.96 L1160.18 314.96 L1158.62 314.96 L1157.07 314.96 L1155.52 316.52 L1153.96 316.52 L1152.40 316.52 L1150.85 316.52 L1149.30 316.52 L1147.74 316.52 L1146.18 318.07 L1144.63 318.07 L1143.08 318.07 L1141.52 318.07 L1139.97 318.07 L1138.41 318.07 L1136.86 319.63 L1135.30 319.63 L1133.75 319.63 L1132.19 319.63 L1130.63 319.63 L1129.08 319.63 L1129.40 320.20 L1095.00 320.60 L1064.20 320.60 L1064.20 29.00 Z M1064.20 20.40 h62.00 v20 h-62.00 Z"/></clipPath>
<g clip-path="url(#clip3)">
<g filter="url(#low3)"><rect x="1074.20" y="0.40" width="292.60" height="371.10" fill="#000"/>
<path d="M1126.20 29.00 L1126.40 32.00 L1128.00 33.40 L1313.50 33.50 L1318.00 35.30 L1325.00 35.50 L1329.00 41.80 L1329.00 49.90 L1327.80 53.30 L1326.90 65.00 L1326.90 120.00 L1326.57 120.59 L1326.57 122.14 L1326.57 123.70 L1326.57 125.25 L1326.57 126.81 L1326.57 128.36 L1326.57 129.92 L1326.57 131.47 L1326.57 133.03 L1328.12 133.03 L1328.12 134.59 L1328.12 136.14 L1328.12 137.69 L1328.12 139.25 L1328.12 140.81 L1328.12 142.36 L1328.12 143.91 L1328.12 145.47 L1329.67 147.03 L1329.67 148.58 L1329.67 150.13 L1329.67 151.69 L1329.67 153.25 L1329.67 154.80 L1329.67 156.35 L1329.67 157.91 L1329.67 159.47 L1329.67 161.02 L1329.67 162.57 L1329.67 164.13 L1329.67 165.69 L1329.67 167.24 L1329.67 168.79 L1329.67 170.35 L1328.12 170.35 L1328.12 171.91 L1328.12 173.46 L1328.12 175.01 L1326.57 175.01 L1326.57 176.57 L1326.57 178.12 L1326.57 179.68 L1325.01 179.68 L1325.01 181.24 L1325.01 182.79 L1323.45 184.34 L1323.45 185.90 L1323.45 187.46 L1321.90 187.46 L1321.90 189.01 L1321.90 190.56 L1320.35 190.56 L1320.35 192.12 L1320.35 193.68 L1318.79 195.23 L1318.79 196.78 L1317.24 198.34 L1317.24 199.90 L1315.68 201.45 L1315.68 203.00 L1314.12 204.56 L1314.12 206.12 L1312.57 207.67 L1312.57 209.22 L1311.02 210.78 L1311.02 212.34 L1309.46 213.89 L1309.46 215.44 L1307.90 217.00 L1307.90 218.56 L1306.35 218.56 L1306.35 220.11 L1306.35 221.66 L1304.80 221.66 L1304.80 223.22 L1303.24 224.78 L1301.68 226.33 L1301.68 227.88 L1300.13 227.88 L1300.13 229.44 L1298.58 229.44 L1298.58 231.00 L1297.02 232.55 L1295.47 234.10 L1295.47 235.66 L1293.91 235.66 L1293.91 237.22 L1292.36 237.22 L1292.36 238.77 L1290.80 240.32 L1289.25 241.88 L1287.69 243.44 L1287.69 244.99 L1286.13 244.99 L1286.13 246.54 L1284.58 246.54 L1284.58 248.10 L1283.03 248.10 L1283.03 249.66 L1281.47 249.66 L1281.47 251.21 L1279.91 251.21 L1279.91 252.76 L1278.36 252.76 L1278.36 254.32 L1276.81 255.88 L1275.25 255.88 L1275.25 257.43 L1273.70 257.43 L1273.70 258.98 L1272.14 258.98 L1272.14 260.54 L1270.59 260.54 L1270.59 262.09 L1269.03 262.09 L1267.48 263.65 L1265.92 265.20 L1264.37 265.20 L1264.37 266.76 L1262.81 266.76 L1262.81 268.31 L1261.26 268.31 L1261.26 269.87 L1259.70 269.87 L1258.14 271.42 L1256.59 271.42 L1256.59 272.98 L1255.04 272.98 L1255.04 274.53 L1253.48 274.53 L1251.92 276.09 L1250.37 277.64 L1248.82 277.64 L1248.82 279.20 L1247.26 279.20 L1245.70 280.75 L1244.15 280.75 L1244.15 282.31 L1242.60 282.31 L1242.60 283.87 L1241.04 283.87 L1239.49 285.42 L1237.93 285.42 L1237.93 286.97 L1236.38 286.97 L1234.82 286.97 L1234.82 288.53 L1233.27 288.53 L1231.71 290.08 L1230.15 290.08 L1230.15 291.64 L1228.60 291.64 L1227.05 291.64 L1225.49 293.19 L1223.93 293.19 L1223.93 294.75 L1222.38 294.75 L1220.83 294.75 L1220.83 296.30 L1219.27 296.30 L1217.72 296.30 L1216.16 297.86 L1214.61 297.86 L1213.05 299.41 L1211.50 299.41 L1209.94 300.97 L1208.38 300.97 L1206.83 300.97 L1206.83 302.52 L1205.28 302.52 L1203.72 302.52 L1202.16 304.08 L1200.61 304.08 L1199.06 304.08 L1197.50 305.63 L1195.94 305.63 L1194.39 305.63 L1192.84 307.19 L1191.28 307.19 L1189.73 307.19 L1188.17 308.74 L1186.62 308.74 L1185.06 308.74 L1183.51 310.30 L1181.95 310.30 L1180.39 310.30 L1178.84 310.30 L1177.29 311.85 L1175.73 311.85 L1174.17 311.85 L1172.62 311.85 L1171.07 313.41 L1169.51 313.41 L1167.95 313.41 L1166.40 313.41 L1164.85 313.41 L1164.85 314.96 L1163.29 314.96 L1161.74 314.96 L1160.18 314.96 L1158.62 314.96 L1157.07 314.96 L1155.52 316.52 L1153.96 316.52 L1152.40 316.52 L1150.85 316.52 L1149.30 316.52 L1147.74 316.52 L1146.18 318.07 L1144.63 318.07 L1143.08 318.07 L1141.52 318.07 L1139.97 318.07 L1138.41 318.07 L1136.86 319.63 L1135.30 319.63 L1133.75 319.63 L1132.19 319.63 L1130.63 319.63 L1129.08 319.63 L1129.40 320.20 L1095.00 320.60" fill="none" stroke="#fff" stroke-opacity="0.34" stroke-width="10.56" stroke-linejoin="round" filter="url(#halow3)"/>
<path d="M1126.20 29.00 L1126.40 32.00 L1128.00 33.40 L1313.50 33.50 L1318.00 35.30 L1325.00 35.50 L1329.00 41.80 L1329.00 49.90 L1327.80 53.30 L1326.90 65.00 L1326.90 120.00 L1326.57 120.59 L1326.57 122.14 L1326.57 123.70 L1326.57 125.25 L1326.57 126.81 L1326.57 128.36 L1326.57 129.92 L1326.57 131.47 L1326.57 133.03 L1328.12 133.03 L1328.12 134.59 L1328.12 136.14 L1328.12 137.69 L1328.12 139.25 L1328.12 140.81 L1328.12 142.36 L1328.12 143.91 L1328.12 145.47 L1329.67 147.03 L1329.67 148.58 L1329.67 150.13 L1329.67 151.69 L1329.67 153.25 L1329.67 154.80 L1329.67 156.35 L1329.67 157.91 L1329.67 159.47 L1329.67 161.02 L1329.67 162.57 L1329.67 164.13 L1329.67 165.69 L1329.67 167.24 L1329.67 168.79 L1329.67 170.35 L1328.12 170.35 L1328.12 171.91 L1328.12 173.46 L1328.12 175.01 L1326.57 175.01 L1326.57 176.57 L1326.57 178.12 L1326.57 179.68 L1325.01 179.68 L1325.01 181.24 L1325.01 182.79 L1323.45 184.34 L1323.45 185.90 L1323.45 187.46 L1321.90 187.46 L1321.90 189.01 L1321.90 190.56 L1320.35 190.56 L1320.35 192.12 L1320.35 193.68 L1318.79 195.23 L1318.79 196.78 L1317.24 198.34 L1317.24 199.90 L1315.68 201.45 L1315.68 203.00 L1314.12 204.56 L1314.12 206.12 L1312.57 207.67 L1312.57 209.22 L1311.02 210.78 L1311.02 212.34 L1309.46 213.89 L1309.46 215.44 L1307.90 217.00 L1307.90 218.56 L1306.35 218.56 L1306.35 220.11 L1306.35 221.66 L1304.80 221.66 L1304.80 223.22 L1303.24 224.78 L1301.68 226.33 L1301.68 227.88 L1300.13 227.88 L1300.13 229.44 L1298.58 229.44 L1298.58 231.00 L1297.02 232.55 L1295.47 234.10 L1295.47 235.66 L1293.91 235.66 L1293.91 237.22 L1292.36 237.22 L1292.36 238.77 L1290.80 240.32 L1289.25 241.88 L1287.69 243.44 L1287.69 244.99 L1286.13 244.99 L1286.13 246.54 L1284.58 246.54 L1284.58 248.10 L1283.03 248.10 L1283.03 249.66 L1281.47 249.66 L1281.47 251.21 L1279.91 251.21 L1279.91 252.76 L1278.36 252.76 L1278.36 254.32 L1276.81 255.88 L1275.25 255.88 L1275.25 257.43 L1273.70 257.43 L1273.70 258.98 L1272.14 258.98 L1272.14 260.54 L1270.59 260.54 L1270.59 262.09 L1269.03 262.09 L1267.48 263.65 L1265.92 265.20 L1264.37 265.20 L1264.37 266.76 L1262.81 266.76 L1262.81 268.31 L1261.26 268.31 L1261.26 269.87 L1259.70 269.87 L1258.14 271.42 L1256.59 271.42 L1256.59 272.98 L1255.04 272.98 L1255.04 274.53 L1253.48 274.53 L1251.92 276.09 L1250.37 277.64 L1248.82 277.64 L1248.82 279.20 L1247.26 279.20 L1245.70 280.75 L1244.15 280.75 L1244.15 282.31 L1242.60 282.31 L1242.60 283.87 L1241.04 283.87 L1239.49 285.42 L1237.93 285.42 L1237.93 286.97 L1236.38 286.97 L1234.82 286.97 L1234.82 288.53 L1233.27 288.53 L1231.71 290.08 L1230.15 290.08 L1230.15 291.64 L1228.60 291.64 L1227.05 291.64 L1225.49 293.19 L1223.93 293.19 L1223.93 294.75 L1222.38 294.75 L1220.83 294.75 L1220.83 296.30 L1219.27 296.30 L1217.72 296.30 L1216.16 297.86 L1214.61 297.86 L1213.05 299.41 L1211.50 299.41 L1209.94 300.97 L1208.38 300.97 L1206.83 300.97 L1206.83 302.52 L1205.28 302.52 L1203.72 302.52 L1202.16 304.08 L1200.61 304.08 L1199.06 304.08 L1197.50 305.63 L1195.94 305.63 L1194.39 305.63 L1192.84 307.19 L1191.28 307.19 L1189.73 307.19 L1188.17 308.74 L1186.62 308.74 L1185.06 308.74 L1183.51 310.30 L1181.95 310.30 L1180.39 310.30 L1178.84 310.30 L1177.29 311.85 L1175.73 311.85 L1174.17 311.85 L1172.62 311.85 L1171.07 313.41 L1169.51 313.41 L1167.95 313.41 L1166.40 313.41 L1164.85 313.41 L1164.85 314.96 L1163.29 314.96 L1161.74 314.96 L1160.18 314.96 L1158.62 314.96 L1157.07 314.96 L1155.52 316.52 L1153.96 316.52 L1152.40 316.52 L1150.85 316.52 L1149.30 316.52 L1147.74 316.52 L1146.18 318.07 L1144.63 318.07 L1143.08 318.07 L1141.52 318.07 L1139.97 318.07 L1138.41 318.07 L1136.86 319.63 L1135.30 319.63 L1133.75 319.63 L1132.19 319.63 L1130.63 319.63 L1129.08 319.63 L1129.40 320.20 L1095.00 320.60" fill="none" stroke="#fff" stroke-width="5.609999999999999" stroke-linejoin="round" filter="url(#halo3)"/></g>
<rect x="1127.70" y="30.40" width="210.70" height="3.00" fill="url(#topfade)"/>
<g clip-path="url(#reg3)"><g filter="url(#cm3)">
<rect x="1044.20" y="-29.60" width="352.60" height="431.10" fill="#000"/>
<g filter="url(#b3_0)">
<path d="M1085.00 28.00 L1131.40 28.00 L1131.40 40.80 L1137.80 51.50 L1148.50 60.00 L1163.50 64.40 L1180.60 62.20 L1195.60 55.80 L1204.00 60.00 L1204.00 75.00 L1200.00 92.00 L1196.50 103.00 L1199.90 117.00 L1206.30 138.50 L1202.00 153.50 L1195.60 170.60 L1189.20 181.40 L1176.30 192.00 L1159.20 199.60 L1137.80 198.50 L1116.40 200.70 L1085.00 201.70 Z" fill="rgb(31,31,31)"/>
</g>
<g filter="url(#b3_1)">
<path d="M1085.00 28.00 L1130.00 28.00 L1130.00 40.80 L1136.00 52.00 L1147.00 61.50 L1163.00 66.50 L1180.00 64.50 L1194.00 58.50 L1201.00 62.00 L1201.00 75.00 L1197.50 92.00 L1194.00 103.00 L1197.40 117.00 L1203.50 138.50 L1199.50 153.50 L1193.30 169.60 L1187.00 180.00 L1175.00 190.00 L1158.80 197.00 L1137.80 196.00 L1116.40 198.20 L1085.00 199.20 Z" fill="rgb(43,43,43)"/>
</g>
<g filter="url(#b3_2)">
<path d="M1085.00 28.00 L1127.00 28.00 L1127.00 35.50 L1122.80 43.00 L1127.00 53.70 L1137.80 64.40 L1150.60 75.00 L1163.50 81.50 L1172.00 86.00 L1175.50 99.00 L1184.90 117.10 L1191.30 134.20 L1193.40 142.80 L1189.20 157.80 L1182.00 172.00 L1179.00 180.00 L1167.80 185.70 L1150.60 186.70 L1133.50 185.70 L1116.40 186.70 L1085.00 187.80 Z" fill="rgb(62,62,62)" stroke="rgb(62,62,62)" stroke-width="7" stroke-linejoin="round"/>
</g>
<g filter="url(#b3_3)">
<path d="M1085.00 28.00 L1127.00 28.00 L1127.00 35.50 L1122.80 43.00 L1127.00 53.70 L1137.80 64.40 L1150.60 75.00 L1163.50 81.50 L1172.00 86.00 L1175.50 99.00 L1184.90 117.10 L1191.30 134.20 L1193.40 142.80 L1189.20 157.80 L1182.00 172.00 L1179.00 180.00 L1167.80 185.70 L1150.60 186.70 L1133.50 185.70 L1116.40 186.70 L1085.00 187.80 Z" fill="rgb(76,76,76)"/>
</g>
<g filter="url(#b3_4)">
<path d="M1085.00 28.00 L1120.00 28.00 L1116.00 44.00 L1120.00 58.00 L1130.00 71.00 L1143.00 83.00 L1154.00 91.00 L1159.00 99.00 L1163.00 112.00 L1171.00 127.00 L1177.00 142.00 L1174.00 158.00 L1167.00 171.00 L1158.00 177.00 L1140.00 178.00 L1085.00 180.00 Z" fill="rgb(81,81,81)"/>
</g>
<g filter="url(#b3_5)">
<path d="M1080.00 95.00 L1150.00 100.00 L1165.00 125.00 L1170.00 147.00 L1160.00 170.00 L1140.00 178.00 L1080.00 180.00 Z" fill="rgb(93,93,93)"/>
</g>
<g filter="url(#b3_6)">
<path d="M1080.00 118.00 L1120.00 124.00 L1130.00 147.00 L1120.00 170.00 L1080.00 176.00 Z" fill="rgb(103,103,103)"/>
</g>
<g filter="url(#b3_7)">
<path d="M1080.00 15.00 L1121.00 15.00 L1117.00 36.00 L1080.00 42.00 Z" fill="rgb(107,107,107)"/>
</g>
</g></g>
<path d="M1126.20 29.00 L1126.40 32.00 L1128.00 33.40 L1313.50 33.50 L1318.00 35.30 L1325.00 35.50 L1329.00 41.80 L1329.00 49.90 L1327.80 53.30 L1326.90 65.00 L1326.90 120.00 L1326.57 120.59 L1326.57 122.14 L1326.57 123.70 L1326.57 125.25 L1326.57 126.81 L1326.57 128.36 L1326.57 129.92 L1326.57 131.47 L1326.57 133.03 L1328.12 133.03 L1328.12 134.59 L1328.12 136.14 L1328.12 137.69 L1328.12 139.25 L1328.12 140.81 L1328.12 142.36 L1328.12 143.91 L1328.12 145.47 L1329.67 147.03 L1329.67 148.58 L1329.67 150.13 L1329.67 151.69 L1329.67 153.25 L1329.67 154.80 L1329.67 156.35 L1329.67 157.91 L1329.67 159.47 L1329.67 161.02 L1329.67 162.57 L1329.67 164.13 L1329.67 165.69 L1329.67 167.24 L1329.67 168.79 L1329.67 170.35 L1328.12 170.35 L1328.12 171.91 L1328.12 173.46 L1328.12 175.01 L1326.57 175.01 L1326.57 176.57 L1326.57 178.12 L1326.57 179.68 L1325.01 179.68 L1325.01 181.24 L1325.01 182.79 L1323.45 184.34 L1323.45 185.90 L1323.45 187.46 L1321.90 187.46 L1321.90 189.01 L1321.90 190.56 L1320.35 190.56 L1320.35 192.12 L1320.35 193.68 L1318.79 195.23 L1318.79 196.78 L1317.24 198.34 L1317.24 199.90 L1315.68 201.45 L1315.68 203.00 L1314.12 204.56 L1314.12 206.12 L1312.57 207.67 L1312.57 209.22 L1311.02 210.78 L1311.02 212.34 L1309.46 213.89 L1309.46 215.44 L1307.90 217.00 L1307.90 218.56 L1306.35 218.56 L1306.35 220.11 L1306.35 221.66 L1304.80 221.66 L1304.80 223.22 L1303.24 224.78 L1301.68 226.33 L1301.68 227.88 L1300.13 227.88 L1300.13 229.44 L1298.58 229.44 L1298.58 231.00 L1297.02 232.55 L1295.47 234.10 L1295.47 235.66 L1293.91 235.66 L1293.91 237.22 L1292.36 237.22 L1292.36 238.77 L1290.80 240.32 L1289.25 241.88 L1287.69 243.44 L1287.69 244.99 L1286.13 244.99 L1286.13 246.54 L1284.58 246.54 L1284.58 248.10 L1283.03 248.10 L1283.03 249.66 L1281.47 249.66 L1281.47 251.21 L1279.91 251.21 L1279.91 252.76 L1278.36 252.76 L1278.36 254.32 L1276.81 255.88 L1275.25 255.88 L1275.25 257.43 L1273.70 257.43 L1273.70 258.98 L1272.14 258.98 L1272.14 260.54 L1270.59 260.54 L1270.59 262.09 L1269.03 262.09 L1267.48 263.65 L1265.92 265.20 L1264.37 265.20 L1264.37 266.76 L1262.81 266.76 L1262.81 268.31 L1261.26 268.31 L1261.26 269.87 L1259.70 269.87 L1258.14 271.42 L1256.59 271.42 L1256.59 272.98 L1255.04 272.98 L1255.04 274.53 L1253.48 274.53 L1251.92 276.09 L1250.37 277.64 L1248.82 277.64 L1248.82 279.20 L1247.26 279.20 L1245.70 280.75 L1244.15 280.75 L1244.15 282.31 L1242.60 282.31 L1242.60 283.87 L1241.04 283.87 L1239.49 285.42 L1237.93 285.42 L1237.93 286.97 L1236.38 286.97 L1234.82 286.97 L1234.82 288.53 L1233.27 288.53 L1231.71 290.08 L1230.15 290.08 L1230.15 291.64 L1228.60 291.64 L1227.05 291.64 L1225.49 293.19 L1223.93 293.19 L1223.93 294.75 L1222.38 294.75 L1220.83 294.75 L1220.83 296.30 L1219.27 296.30 L1217.72 296.30 L1216.16 297.86 L1214.61 297.86 L1213.05 299.41 L1211.50 299.41 L1209.94 300.97 L1208.38 300.97 L1206.83 300.97 L1206.83 302.52 L1205.28 302.52 L1203.72 302.52 L1202.16 304.08 L1200.61 304.08 L1199.06 304.08 L1197.50 305.63 L1195.94 305.63 L1194.39 305.63 L1192.84 307.19 L1191.28 307.19 L1189.73 307.19 L1188.17 308.74 L1186.62 308.74 L1185.06 308.74 L1183.51 310.30 L1181.95 310.30 L1180.39 310.30 L1178.84 310.30 L1177.29 311.85 L1175.73 311.85 L1174.17 311.85 L1172.62 311.85 L1171.07 313.41 L1169.51 313.41 L1167.95 313.41 L1166.40 313.41 L1164.85 313.41 L1164.85 314.96 L1163.29 314.96 L1161.74 314.96 L1160.18 314.96 L1158.62 314.96 L1157.07 314.96 L1155.52 316.52 L1153.96 316.52 L1152.40 316.52 L1150.85 316.52 L1149.30 316.52 L1147.74 316.52 L1146.18 318.07 L1144.63 318.07 L1143.08 318.07 L1141.52 318.07 L1139.97 318.07 L1138.41 318.07 L1136.86 319.63 L1135.30 319.63 L1133.75 319.63 L1132.19 319.63 L1130.63 319.63 L1129.08 319.63 L1129.40 320.20 L1095.00 320.60" fill="none" stroke="#08080c" stroke-width="1.45" stroke-linejoin="round"/>
</g>
<linearGradient id="cb3a" x1="0" y1="0" x2="0" y2="1"><stop offset="0.0000" stop-color="rgb(200,32,32)"/><stop offset="0.0250" stop-color="rgb(211,36,36)"/><stop offset="0.0500" stop-color="rgb(223,40,40)"/><stop offset="0.0750" stop-color="rgb(227,45,37)"/><stop offset="0.1000" stop-color="rgb(229,51,35)"/><stop offset="0.1250" stop-color="rgb(232,58,32)"/><stop offset="0.1500" stop-color="rgb(235,72,29)"/><stop offset="0.1750" stop-color="rgb(238,87,26)"/><stop offset="0.2000" stop-color="rgb(240,102,24)"/><stop offset="0.2250" stop-color="rgb(240,116,24)"/><stop offset="0.2500" stop-color="rgb(240,130,24)"/><stop offset="0.2750" stop-color="rgb(242,149,22)"/><stop offset="0.3000" stop-color="rgb(246,171,18)"/><stop offset="0.3250" stop-color="rgb(249,194,16)"/><stop offset="0.3500" stop-color="rgb(251,218,16)"/><stop offset="0.3750" stop-color="rgb(254,235,5)"/><stop offset="0.4000" stop-color="rgb(236,235,19)"/><stop offset="0.4250" stop-color="rgb(208,227,43)"/><stop offset="0.4500" stop-color="rgb(178,217,62)"/><stop offset="0.4750" stop-color="rgb(162,209,73)"/><stop offset="0.5000" stop-color="rgb(150,204,85)"/><stop offset="0.5250" stop-color="rgb(145,202,102)"/><stop offset="0.5500" stop-color="rgb(139,201,119)"/><stop offset="0.5750" stop-color="rgb(134,200,136)"/><stop offset="0.6000" stop-color="rgb(131,200,154)"/><stop offset="0.6250" stop-color="rgb(128,200,170)"/><stop offset="0.6500" stop-color="rgb(128,200,184)"/><stop offset="0.6750" stop-color="rgb(128,200,198)"/><stop offset="0.7000" stop-color="rgb(112,196,212)"/><stop offset="0.7250" stop-color="rgb(91,190,226)"/><stop offset="0.7500" stop-color="rgb(48,176,240)"/><stop offset="0.7750" stop-color="rgb(48,154,224)"/><stop offset="0.8000" stop-color="rgb(50,136,210)"/><stop offset="0.8250" stop-color="rgb(54,119,197)"/><stop offset="0.8500" stop-color="rgb(57,104,186)"/><stop offset="0.8750" stop-color="rgb(59,90,176)"/><stop offset="0.9000" stop-color="rgb(61,77,165)"/><stop offset="0.9250" stop-color="rgb(63,65,156)"/><stop offset="0.9500" stop-color="rgb(66,56,148)"/><stop offset="0.9750" stop-color="rgb(69,49,140)"/><stop offset="1.0000" stop-color="rgb(70,48,138)"/></linearGradient>
<linearGradient id="cb3b" x1="0" y1="0" x2="0" y2="1"><stop offset="0.0000" stop-color="rgb(255,255,255)"/><stop offset="0.0500" stop-color="rgb(244,247,247)"/><stop offset="0.1000" stop-color="rgb(233,239,239)"/><stop offset="0.1500" stop-color="rgb(222,232,232)"/><stop offset="0.2000" stop-color="rgb(211,224,224)"/><stop offset="0.2500" stop-color="rgb(200,216,216)"/><stop offset="0.3000" stop-color="rgb(192,210,211)"/><stop offset="0.3500" stop-color="rgb(184,203,206)"/><stop offset="0.4000" stop-color="rgb(176,197,202)"/><stop offset="0.4500" stop-color="rgb(168,190,197)"/><stop offset="0.5000" stop-color="rgb(160,184,192)"/><stop offset="0.5500" stop-color="rgb(152,174,186)"/><stop offset="0.6000" stop-color="rgb(144,164,180)"/><stop offset="0.6500" stop-color="rgb(136,154,174)"/><stop offset="0.7000" stop-color="rgb(128,144,168)"/><stop offset="0.7500" stop-color="rgb(117,130,154)"/><stop offset="0.8000" stop-color="rgb(106,115,140)"/><stop offset="0.8500" stop-color="rgb(96,100,125)"/><stop offset="0.9000" stop-color="rgb(85,86,111)"/><stop offset="0.9500" stop-color="rgb(73,73,98)"/><stop offset="1.0000" stop-color="rgb(61,60,86)"/></linearGradient>
<rect x="1344.90" y="30.40" width="9.80" height="156.10" fill="url(#cb3a)"/>
<rect x="1344.90" y="186.50" width="9.80" height="155.00" fill="url(#cb3b)"/>
<rect x="1344.90" y="186.50" width="0.6" height="100.00" fill="#9a9aa0" fill-opacity="0.8"/>
<g opacity="0.999"><text x="1104.60" y="21.20" font-size="21" text-anchor="start" font-weight="normal" >d. CH target</text>
<text x="1336.60" y="17.00" font-size="24" text-anchor="start" font-weight="bold" >d)</text>
<text x="1098.00" y="36.80" font-size="17" text-anchor="end" font-weight="normal" >0</text>
<text x="1101.60" y="66.80" font-size="17" text-anchor="end" font-weight="normal" >-200</text>
<text x="1101.60" y="96.10" font-size="17" text-anchor="end" font-weight="normal" >-400</text>
<text x="1101.60" y="129.00" font-size="17" text-anchor="end" font-weight="normal" >-600</text>
<text x="1101.60" y="158.40" font-size="17" text-anchor="end" font-weight="normal" >-800</text>
<text x="1101.60" y="188.70" font-size="17" text-anchor="end" font-weight="normal" >-1000</text>
<text x="1101.60" y="219.60" font-size="17" text-anchor="end" font-weight="normal" >-1200</text>
<text x="1101.60" y="251.10" font-size="17" text-anchor="end" font-weight="normal" >-1400</text>
<text x="1101.60" y="284.30" font-size="17" text-anchor="end" font-weight="normal" >-1600</text>
<text x="1101.60" y="313.90" font-size="17" text-anchor="end" font-weight="normal" >-1800</text>
<text x="1101.60" y="342.60" font-size="17" text-anchor="end" font-weight="normal" >-2000</text>
<text x="1100.60" y="360.30" font-size="17" text-anchor="middle" font-weight="normal" >0</text>
<text x="1186.80" y="360.30" font-size="17" text-anchor="middle" font-weight="normal" >500</text>
<text x="1266.80" y="360.30" font-size="17" text-anchor="middle" font-weight="normal" >1000</text>
<text x="1334.50" y="360.30" font-size="17" text-anchor="middle" font-weight="normal" >1500</text>
<text x="1231.20" y="378.00" font-size="21" text-anchor="middle" font-weight="normal" >r [μm]</text>
<text transform="translate(1060.60,130.90) rotate(-90)" font-size="21" text-anchor="middle">z[μm]</text>
<text x="1357.20" y="38.60" font-size="17" text-anchor="start" font-weight="normal" >100.0</text>
<text x="1357.70" y="190.30" font-size="17" text-anchor="start" font-weight="normal" >0.085</text>
<text x="1359.60" y="344.50" font-size="17" text-anchor="start" font-weight="normal" >0</text>
<text transform="translate(1390.40,268.70) rotate(-90)" font-size="21" text-anchor="middle">temperature, eV</text>
<rect x="1101.7" y="29.20" width="0.9" height="4" fill="#9a9a9a"/>
<rect x="1101.7" y="59.20" width="0.9" height="4" fill="#9a9a9a"/>
<rect x="1101.7" y="88.50" width="0.9" height="4" fill="#9a9a9a"/>
<rect x="1101.7" y="121.40" width="0.9" height="4" fill="#9a9a9a"/>
<rect x="1101.7" y="150.80" width="0.9" height="4" fill="#9a9a9a"/>
<rect x="1101.7" y="181.10" width="0.9" height="4" fill="#9a9a9a"/>
<rect x="1101.7" y="212.00" width="0.9" height="4" fill="#9a9a9a"/>
<rect x="1101.7" y="243.50" width="0.9" height="4" fill="#9a9a9a"/>
<rect x="1101.7" y="276.70" width="0.9" height="4" fill="#9a9a9a"/>
<rect x="1101.7" y="306.30" width="0.9" height="4" fill="#9a9a9a"/>
<rect x="1101.7" y="335.00" width="0.9" height="4" fill="#9a9a9a"/></g>
</svg></body></html>
